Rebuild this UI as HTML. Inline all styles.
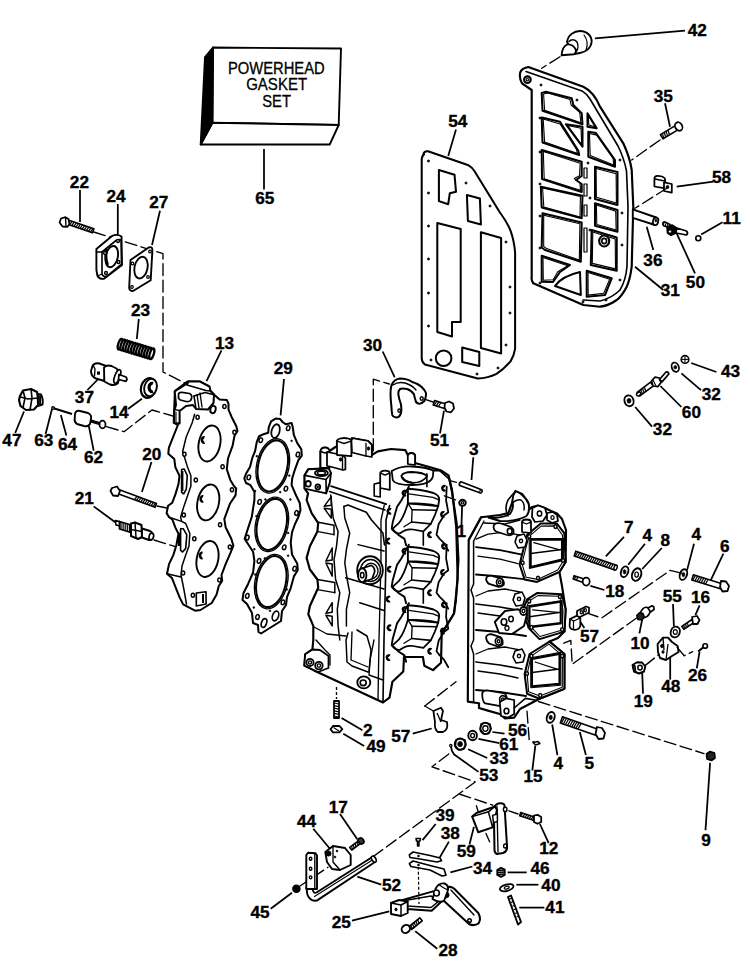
<!DOCTYPE html>
<html><head><meta charset="utf-8"><style>
html,body{margin:0;padding:0;background:#fff;width:750px;height:965px;overflow:hidden}
svg{display:block}
.l{font-family:"Liberation Sans",sans-serif;font-weight:bold;font-size:17.2px;text-anchor:middle;fill:#000;stroke:#000;stroke-width:0.35px}
.t{font-family:"Liberation Sans",sans-serif;font-size:16.3px;text-anchor:middle;fill:#000;stroke:#000;stroke-width:0.3px}
</style></head><body>
<svg width="750" height="965" viewBox="0 0 750 965">
<polygon points="213.0,47.5 341.0,48.5 338.7,125.0 212.4,122.8" fill="#fff" stroke="#000" stroke-width="1.89" stroke-linejoin="round" />
<polygon points="212.4,122.8 338.7,125.0 329.7,144.5 200.7,144.5" fill="#fff" stroke="#000" stroke-width="1.89" stroke-linejoin="round" />
<polygon points="205.0,57.0 213.0,47.5 212.4,122.8 200.7,144.5" fill="#000" stroke="#000" stroke-width="1.89" stroke-linejoin="round" />
<text x="276.3" y="73.6" class="t" textLength="96.8" lengthAdjust="spacingAndGlyphs">POWERHEAD</text>
<text x="276.65" y="90" class="t" textLength="60.9" lengthAdjust="spacingAndGlyphs">GASKET</text>
<text x="276.6" y="106.9" class="t" textLength="28.6" lengthAdjust="spacingAndGlyphs">SET</text>
<line x1="264.0" y1="149.0" x2="264.0" y2="189.5" stroke="#000" stroke-width="1.76" stroke-linecap="butt"/>
<text x="79.40" y="187.60" class="l">22</text>
<text x="116.10" y="202.20" class="l">24</text>
<text x="158.70" y="208.40" class="l">27</text>
<text x="11.90" y="446.00" class="l">47</text>
<text x="43.80" y="446.00" class="l">63</text>
<text x="67.50" y="450.20" class="l">64</text>
<text x="93.50" y="462.60" class="l">62</text>
<text x="84.40" y="402.60" class="l">37</text>
<text x="140.50" y="315.60" class="l">23</text>
<text x="119.00" y="418.40" class="l">14</text>
<text x="151.80" y="460.00" class="l">20</text>
<text x="84.30" y="504.00" class="l">21</text>
<text x="224.60" y="348.60" class="l">13</text>
<text x="283.20" y="374.00" class="l">29</text>
<text x="372.60" y="351.20" class="l">30</text>
<text x="439.50" y="445.60" class="l">51</text>
<text x="473.90" y="454.60" class="l">3</text>
<text x="457.70" y="126.80" class="l">54</text>
<text x="663.20" y="101.80" class="l">35</text>
<text x="721.50" y="183.00" class="l">58</text>
<text x="731.70" y="223.80" class="l">11</text>
<text x="652.90" y="265.60" class="l">36</text>
<text x="695.40" y="287.80" class="l">50</text>
<text x="670.30" y="295.80" class="l">31</text>
<text x="730.60" y="377.00" class="l">43</text>
<text x="711.20" y="400.00" class="l">32</text>
<text x="691.40" y="418.20" class="l">60</text>
<text x="662.40" y="434.80" class="l">32</text>
<text x="628.90" y="533.40" class="l">7</text>
<text x="647.20" y="541.20" class="l">4</text>
<text x="665.20" y="545.60" class="l">8</text>
<text x="696.30" y="539.60" class="l">4</text>
<text x="724.70" y="551.80" class="l">6</text>
<text x="614.80" y="597.20" class="l">18</text>
<text x="672.20" y="601.60" class="l">55</text>
<text x="700.60" y="603.40" class="l">16</text>
<text x="589.50" y="641.60" class="l">57</text>
<text x="640.10" y="648.60" class="l">10</text>
<text x="697.50" y="681.00" class="l">26</text>
<text x="670.80" y="691.60" class="l">48</text>
<text x="643.20" y="707.20" class="l">19</text>
<text x="367.90" y="735.60" class="l">2</text>
<text x="376.10" y="752.20" class="l">49</text>
<text x="400.70" y="741.80" class="l">57</text>
<text x="517.50" y="735.60" class="l">56</text>
<text x="508.80" y="749.60" class="l">61</text>
<text x="499.00" y="763.60" class="l">33</text>
<text x="488.70" y="780.60" class="l">53</text>
<text x="533.00" y="781.60" class="l">15</text>
<text x="558.30" y="769.20" class="l">4</text>
<text x="589.40" y="769.20" class="l">5</text>
<text x="338.20" y="812.60" class="l">17</text>
<text x="306.50" y="827.00" class="l">44</text>
<text x="445.00" y="821.40" class="l">39</text>
<text x="450.20" y="839.00" class="l">38</text>
<text x="466.20" y="856.60" class="l">59</text>
<text x="548.70" y="854.40" class="l">12</text>
<text x="482.50" y="874.00" class="l">34</text>
<text x="540.10" y="874.40" class="l">46</text>
<text x="550.90" y="891.20" class="l">40</text>
<text x="554.90" y="913.20" class="l">41</text>
<text x="391.60" y="891.20" class="l">52</text>
<text x="260.10" y="918.00" class="l">45</text>
<text x="341.30" y="928.20" class="l">25</text>
<text x="706.10" y="846.20" class="l">9</text>
<text x="448.00" y="956.20" class="l">28</text>
<text x="697.30" y="35.60" class="l">42</text>
<text x="264.70" y="204.20" class="l">65</text>
<text x="461.30" y="537.40" class="l">1</text>
<line x1="595.0" y1="38.3" x2="685.0" y2="30.7" stroke="#000" stroke-width="1.76" stroke-linecap="butt"/>
<line x1="665.0" y1="103.3" x2="670.0" y2="126.7" stroke="#000" stroke-width="1.76" stroke-linecap="butt"/>
<line x1="456.0" y1="129.6" x2="448.2" y2="156.0" stroke="#000" stroke-width="1.76" stroke-linecap="butt"/>
<line x1="676.7" y1="186.7" x2="713.3" y2="181.7" stroke="#000" stroke-width="1.76" stroke-linecap="butt"/>
<line x1="80.0" y1="190.0" x2="80.0" y2="222.0" stroke="#000" stroke-width="1.76" stroke-linecap="butt"/>
<line x1="117.8" y1="204.0" x2="117.8" y2="234.7" stroke="#000" stroke-width="1.76" stroke-linecap="butt"/>
<line x1="160.0" y1="210.7" x2="152.0" y2="245.0" stroke="#000" stroke-width="1.76" stroke-linecap="butt"/>
<line x1="701.2" y1="234.6" x2="722.5" y2="222.3" stroke="#000" stroke-width="1.76" stroke-linecap="butt"/>
<line x1="646.7" y1="226.7" x2="653.3" y2="250.0" stroke="#000" stroke-width="1.76" stroke-linecap="butt"/>
<line x1="676.7" y1="233.3" x2="695.0" y2="273.3" stroke="#000" stroke-width="1.76" stroke-linecap="butt"/>
<line x1="635.0" y1="266.7" x2="663.3" y2="290.0" stroke="#000" stroke-width="1.76" stroke-linecap="butt"/>
<line x1="138.8" y1="319.0" x2="136.8" y2="339.0" stroke="#000" stroke-width="1.76" stroke-linecap="butt"/>
<line x1="221.5" y1="350.3" x2="206.5" y2="381.2" stroke="#000" stroke-width="1.76" stroke-linecap="butt"/>
<line x1="382.7" y1="351.5" x2="394.7" y2="377.3" stroke="#000" stroke-width="1.76" stroke-linecap="butt"/>
<line x1="284.0" y1="379.0" x2="280.6" y2="415.3" stroke="#000" stroke-width="1.76" stroke-linecap="butt"/>
<line x1="691.2" y1="363.0" x2="716.4" y2="372.0" stroke="#000" stroke-width="1.76" stroke-linecap="butt"/>
<line x1="681.4" y1="373.4" x2="701.0" y2="390.2" stroke="#000" stroke-width="1.76" stroke-linecap="butt"/>
<line x1="98.8" y1="378.5" x2="87.4" y2="390.0" stroke="#000" stroke-width="1.76" stroke-linecap="butt"/>
<line x1="660.4" y1="386.0" x2="681.4" y2="407.0" stroke="#000" stroke-width="1.76" stroke-linecap="butt"/>
<line x1="141.9" y1="398.8" x2="128.0" y2="409.0" stroke="#000" stroke-width="1.76" stroke-linecap="butt"/>
<line x1="635.2" y1="407.0" x2="652.0" y2="426.6" stroke="#000" stroke-width="1.76" stroke-linecap="butt"/>
<line x1="444.0" y1="410.7" x2="440.0" y2="433.3" stroke="#000" stroke-width="1.76" stroke-linecap="butt"/>
<line x1="24.0" y1="411.5" x2="15.2" y2="433.0" stroke="#000" stroke-width="1.76" stroke-linecap="butt"/>
<line x1="45.6" y1="434.0" x2="52.0" y2="409.0" stroke="#000" stroke-width="1.76" stroke-linecap="butt"/>
<line x1="66.4" y1="435.5" x2="60.8" y2="415.0" stroke="#000" stroke-width="1.76" stroke-linecap="butt"/>
<line x1="473.3" y1="457.3" x2="471.5" y2="480.0" stroke="#000" stroke-width="1.76" stroke-linecap="butt"/>
<line x1="88.7" y1="425.4" x2="93.7" y2="450.7" stroke="#000" stroke-width="1.76" stroke-linecap="butt"/>
<line x1="151.5" y1="462.0" x2="141.9" y2="492.0" stroke="#000" stroke-width="1.76" stroke-linecap="butt"/>
<line x1="93.7" y1="506.4" x2="115.3" y2="522.3" stroke="#000" stroke-width="1.76" stroke-linecap="butt"/>
<line x1="624.0" y1="536.8" x2="605.8" y2="556.4" stroke="#000" stroke-width="1.76" stroke-linecap="butt"/>
<line x1="462.1" y1="506.0" x2="461.5" y2="525.0" stroke="#000" stroke-width="1.76" stroke-linecap="butt"/>
<line x1="645.0" y1="543.8" x2="628.2" y2="564.8" stroke="#000" stroke-width="1.76" stroke-linecap="butt"/>
<line x1="661.8" y1="548.0" x2="642.2" y2="569.0" stroke="#000" stroke-width="1.76" stroke-linecap="butt"/>
<line x1="694.0" y1="543.8" x2="687.0" y2="570.4" stroke="#000" stroke-width="1.76" stroke-linecap="butt"/>
<line x1="723.4" y1="553.6" x2="710.8" y2="580.2" stroke="#000" stroke-width="1.76" stroke-linecap="butt"/>
<line x1="590.4" y1="585.8" x2="604.4" y2="590.0" stroke="#000" stroke-width="1.76" stroke-linecap="butt"/>
<line x1="673.0" y1="604.0" x2="673.9" y2="626.4" stroke="#000" stroke-width="1.76" stroke-linecap="butt"/>
<line x1="699.6" y1="605.4" x2="695.4" y2="615.2" stroke="#000" stroke-width="1.76" stroke-linecap="butt"/>
<line x1="579.4" y1="620.6" x2="584.4" y2="628.0" stroke="#000" stroke-width="1.76" stroke-linecap="butt"/>
<line x1="642.2" y1="619.4" x2="639.4" y2="633.4" stroke="#000" stroke-width="1.76" stroke-linecap="butt"/>
<line x1="699.6" y1="651.6" x2="696.8" y2="668.4" stroke="#000" stroke-width="1.76" stroke-linecap="butt"/>
<line x1="670.2" y1="657.2" x2="670.2" y2="679.6" stroke="#000" stroke-width="1.76" stroke-linecap="butt"/>
<line x1="642.2" y1="672.6" x2="643.0" y2="693.6" stroke="#000" stroke-width="1.76" stroke-linecap="butt"/>
<line x1="341.6" y1="718.1" x2="362.4" y2="730.3" stroke="#000" stroke-width="1.76" stroke-linecap="butt"/>
<line x1="492.4" y1="732.0" x2="504.5" y2="733.7" stroke="#000" stroke-width="1.76" stroke-linecap="butt"/>
<line x1="431.7" y1="728.5" x2="412.7" y2="733.7" stroke="#000" stroke-width="1.76" stroke-linecap="butt"/>
<line x1="478.5" y1="738.9" x2="499.3" y2="743.1" stroke="#000" stroke-width="1.76" stroke-linecap="butt"/>
<line x1="343.3" y1="733.7" x2="364.1" y2="745.9" stroke="#000" stroke-width="1.76" stroke-linecap="butt"/>
<line x1="468.1" y1="749.3" x2="487.2" y2="758.0" stroke="#000" stroke-width="1.76" stroke-linecap="butt"/>
<line x1="552.2" y1="724.5" x2="557.4" y2="755.1" stroke="#000" stroke-width="1.76" stroke-linecap="butt"/>
<line x1="579.8" y1="732.1" x2="585.9" y2="755.1" stroke="#000" stroke-width="1.76" stroke-linecap="butt"/>
<line x1="454.2" y1="754.5" x2="478.5" y2="771.9" stroke="#000" stroke-width="1.76" stroke-linecap="butt"/>
<line x1="535.3" y1="745.9" x2="532.3" y2="770.5" stroke="#000" stroke-width="1.76" stroke-linecap="butt"/>
<line x1="340.0" y1="814.0" x2="357.3" y2="839.3" stroke="#000" stroke-width="1.76" stroke-linecap="butt"/>
<line x1="435.7" y1="824.0" x2="422.5" y2="840.1" stroke="#000" stroke-width="1.76" stroke-linecap="butt"/>
<line x1="313.3" y1="828.7" x2="332.0" y2="851.3" stroke="#000" stroke-width="1.76" stroke-linecap="butt"/>
<line x1="448.9" y1="841.6" x2="438.7" y2="859.2" stroke="#000" stroke-width="1.76" stroke-linecap="butt"/>
<line x1="710.1" y1="762.8" x2="705.5" y2="830.3" stroke="#000" stroke-width="1.76" stroke-linecap="butt"/>
<line x1="539.9" y1="824.0" x2="548.7" y2="843.1" stroke="#000" stroke-width="1.76" stroke-linecap="butt"/>
<line x1="469.5" y1="844.5" x2="473.9" y2="826.9" stroke="#000" stroke-width="1.76" stroke-linecap="butt"/>
<line x1="450.4" y1="872.4" x2="472.4" y2="866.5" stroke="#000" stroke-width="1.76" stroke-linecap="butt"/>
<line x1="507.6" y1="872.4" x2="526.7" y2="872.4" stroke="#000" stroke-width="1.76" stroke-linecap="butt"/>
<line x1="357.3" y1="876.7" x2="381.3" y2="884.7" stroke="#000" stroke-width="1.76" stroke-linecap="butt"/>
<line x1="516.4" y1="884.7" x2="538.4" y2="884.7" stroke="#000" stroke-width="1.76" stroke-linecap="butt"/>
<line x1="519.3" y1="907.6" x2="544.3" y2="907.6" stroke="#000" stroke-width="1.76" stroke-linecap="butt"/>
<line x1="292.0" y1="892.7" x2="270.7" y2="908.7" stroke="#000" stroke-width="1.76" stroke-linecap="butt"/>
<line x1="352.0" y1="920.7" x2="389.3" y2="911.3" stroke="#000" stroke-width="1.76" stroke-linecap="butt"/>
<line x1="415.2" y1="931.1" x2="437.2" y2="948.7" stroke="#000" stroke-width="1.76" stroke-linecap="butt"/>
<path d="M423.3,154.4 Q424,151 428,151.3 L468.5,165.3 Q472,167 474.7,171.6 L499.6,212 Q507,222 510.5,230.7 Q514,240 515.1,252.5 L515.1,348.9 Q514,356 510.5,361.4 Q504,369 496.5,373.8 Q488,378 477.8,378.5 L424.9,364.5 Q421.7,362 421.7,358.2 L421.7,159.1 Q422,156 424,154.4 Z" fill="#fff" stroke="#000" stroke-width="2.03" stroke-linejoin="round" stroke-linecap="round"/>
<path d="M438.9,170 L454.5,174.7 L456,191.8 L449.8,193.3 L448.2,204.2 L438.9,201.1 Z" fill="#fff" stroke="#000" stroke-width="2.03" stroke-linejoin="round" stroke-linecap="round"/>
<path d="M466.9,194.9 L479.9,198.5 L480.9,224.5 L467.9,220.9 Z" fill="#fff" stroke="#000" stroke-width="2.03" stroke-linejoin="round" stroke-linecap="round"/>
<path d="M437.3,222.9 L460.7,229 L460.7,322 L452,322 L452,336.5 L437.3,332 Z" fill="#fff" stroke="#000" stroke-width="2.03" stroke-linejoin="round" stroke-linecap="round"/>
<path d="M480.9,232.2 L501.1,238 L501.1,353.6 L480.9,348 Z" fill="#fff" stroke="#000" stroke-width="2.03" stroke-linejoin="round" stroke-linecap="round"/>
<ellipse cx="443.6" cy="358.2" rx="7.8" ry="7.8" fill="#fff" stroke="#000" stroke-width="2.03" transform="rotate(0 443.6 358.2)"/>
<path d="M462.2,347.4 L479.3,352 L479.3,366 L462.2,362 Z" fill="#fff" stroke="#000" stroke-width="2.03" stroke-linejoin="round" stroke-linecap="round"/>
<ellipse cx="428.5" cy="161.0" rx="1.1" ry="1.1" fill="#000" stroke="#000" stroke-width="0.68" transform="rotate(0 428.5 161.0)"/>
<ellipse cx="466.0" cy="183.0" rx="1.1" ry="1.1" fill="#000" stroke="#000" stroke-width="0.68" transform="rotate(0 466.0 183.0)"/>
<ellipse cx="428.5" cy="193.0" rx="1.1" ry="1.1" fill="#000" stroke="#000" stroke-width="0.68" transform="rotate(0 428.5 193.0)"/>
<ellipse cx="428.5" cy="226.0" rx="1.1" ry="1.1" fill="#000" stroke="#000" stroke-width="0.68" transform="rotate(0 428.5 226.0)"/>
<ellipse cx="428.5" cy="259.0" rx="1.1" ry="1.1" fill="#000" stroke="#000" stroke-width="0.68" transform="rotate(0 428.5 259.0)"/>
<ellipse cx="428.5" cy="293.0" rx="1.1" ry="1.1" fill="#000" stroke="#000" stroke-width="0.68" transform="rotate(0 428.5 293.0)"/>
<ellipse cx="428.5" cy="326.0" rx="1.1" ry="1.1" fill="#000" stroke="#000" stroke-width="0.68" transform="rotate(0 428.5 326.0)"/>
<ellipse cx="431.0" cy="360.0" rx="1.1" ry="1.1" fill="#000" stroke="#000" stroke-width="0.68" transform="rotate(0 431.0 360.0)"/>
<ellipse cx="490.0" cy="206.0" rx="1.1" ry="1.1" fill="#000" stroke="#000" stroke-width="0.68" transform="rotate(0 490.0 206.0)"/>
<ellipse cx="506.0" cy="242.0" rx="1.1" ry="1.1" fill="#000" stroke="#000" stroke-width="0.68" transform="rotate(0 506.0 242.0)"/>
<ellipse cx="510.0" cy="287.0" rx="1.1" ry="1.1" fill="#000" stroke="#000" stroke-width="0.68" transform="rotate(0 510.0 287.0)"/>
<ellipse cx="510.0" cy="313.0" rx="1.1" ry="1.1" fill="#000" stroke="#000" stroke-width="0.68" transform="rotate(0 510.0 313.0)"/>
<ellipse cx="506.0" cy="345.0" rx="1.1" ry="1.1" fill="#000" stroke="#000" stroke-width="0.68" transform="rotate(0 506.0 345.0)"/>
<ellipse cx="498.0" cy="368.0" rx="1.1" ry="1.1" fill="#000" stroke="#000" stroke-width="0.68" transform="rotate(0 498.0 368.0)"/>
<ellipse cx="477.0" cy="374.0" rx="1.1" ry="1.1" fill="#000" stroke="#000" stroke-width="0.68" transform="rotate(0 477.0 374.0)"/>
<path d="M520,76.7 Q519,70 525,68 L528.3,67 L583.3,86.7 Q594,92 600,106.7 L623.3,143.3 Q630,158 631.7,170 L633.3,206.7 L631.7,266.7 Q630,280 626.7,286.7 Q622,296 616.7,300 Q608,306 600,306.7 L583.3,305 L533.3,283.3 Q531,280 531.7,276.7 L531.7,90 L522,83.3 Q520,80 520,76.7 Z" fill="#fff" stroke="#000" stroke-width="2.16" stroke-linejoin="round" stroke-linecap="round"/>
<path d="M526,71.5 L582,90.9 Q587,94 590,99 L618,146 Q624,158 626.5,171 L628,207 L627,266 Q626,280 620,290 Q612,298 600,301 L583,300" fill="none" stroke="#000" stroke-width="1.62" stroke-linejoin="round" stroke-linecap="round"/>
<ellipse cx="527.4" cy="79.7" rx="3.3" ry="3.3" fill="#fff" stroke="#000" stroke-width="2.16" transform="rotate(0 527.4 79.7)"/>
<ellipse cx="527.4" cy="79.7" rx="1.2" ry="1.2" fill="#fff" stroke="#000" stroke-width="1.08" transform="rotate(0 527.4 79.7)"/>
<polygon points="541.7,93.0 546.0,91.7 571.7,98.3 573.3,105.0 581.7,113.3 582.5,124.2 542.5,110.8" fill="#fff" stroke="#000" stroke-width="2.03" stroke-linejoin="round" />
<polygon points="543.6,94.1 547.7,93.1 570.0,99.6 571.1,105.0 579.7,112.4 580.9,122.7 544.6,110.2" fill="none" stroke="#000" stroke-width="1.08" stroke-linejoin="round" />
<polygon points="541.7,117.5 560.0,121.7 578.3,150.8 579.2,155.0 542.5,142.5" fill="#fff" stroke="#000" stroke-width="2.03" stroke-linejoin="round" />
<polygon points="543.2,119.1 560.0,123.9 576.5,149.5 577.6,153.5 544.6,141.9" fill="none" stroke="#000" stroke-width="1.08" stroke-linejoin="round" />
<polygon points="565.8,124.2 582.5,126.7 582.5,146.7" fill="#fff" stroke="#000" stroke-width="2.03" stroke-linejoin="round" />
<polygon points="567.6,125.5 581.0,128.3 581.7,144.7" fill="none" stroke="#000" stroke-width="1.08" stroke-linejoin="round" />
<polygon points="541.7,150.0 581.7,161.7 581.7,176.0 576.0,180.0 581.7,184.0 581.7,192.0 542.0,179.0" fill="#fff" stroke="#000" stroke-width="2.03" stroke-linejoin="round" />
<polygon points="543.3,151.5 580.2,163.3 579.5,175.8 574.3,178.6 580.0,182.7 580.4,190.2 544.2,178.7" fill="none" stroke="#000" stroke-width="1.08" stroke-linejoin="round" />
<polygon points="540.8,186.7 582.5,195.8 581.7,218.3 541.7,207.5" fill="#fff" stroke="#000" stroke-width="2.03" stroke-linejoin="round" />
<polygon points="542.6,188.0 580.4,196.4 580.0,216.9 543.8,206.9" fill="none" stroke="#000" stroke-width="1.08" stroke-linejoin="round" />
<polygon points="542.5,213.3 581.7,222.5 580.8,261.7 545.0,250.0 541.7,247.5" fill="#fff" stroke="#000" stroke-width="2.03" stroke-linejoin="round" />
<polygon points="543.7,215.2 579.9,223.8 579.3,260.1 546.7,248.6 543.7,246.5" fill="none" stroke="#000" stroke-width="1.08" stroke-linejoin="round" />
<polygon points="541.7,255.8 570.0,265.0 560.0,272.0 553.0,282.0 541.7,281.7" fill="#fff" stroke="#000" stroke-width="2.03" stroke-linejoin="round" />
<polygon points="543.0,257.6 567.9,265.8 557.8,271.8 553.1,279.8 543.3,280.2" fill="none" stroke="#000" stroke-width="1.08" stroke-linejoin="round" />
<path d="M555,286 Q562,276 580,272 L580.8,295 Z" fill="#fff" stroke="#000" stroke-width="2.03" stroke-linejoin="round" stroke-linecap="round"/>
<polygon points="587.5,113.3 596.7,128.3 587.5,126.7" fill="#fff" stroke="#000" stroke-width="2.03" stroke-linejoin="round" />
<polygon points="588.2,115.4 595.1,126.8 588.9,125.0" fill="none" stroke="#000" stroke-width="1.08" stroke-linejoin="round" />
<polygon points="588.3,131.7 596.0,133.0 615.0,160.0 615.0,166.7 588.3,156.7" fill="#fff" stroke="#000" stroke-width="2.03" stroke-linejoin="round" />
<polygon points="589.5,133.5 596.6,135.1 613.2,158.7 613.6,165.0 590.2,155.6" fill="none" stroke="#000" stroke-width="1.08" stroke-linejoin="round" />
<polygon points="595.0,166.7 617.5,172.0 617.5,205.0 595.0,199.0" fill="#fff" stroke="#000" stroke-width="2.03" stroke-linejoin="round" />
<polygon points="596.1,168.6 616.1,173.7 616.4,203.1 596.4,197.3" fill="none" stroke="#000" stroke-width="1.08" stroke-linejoin="round" />
<polygon points="595.0,203.3 617.5,210.0 617.5,231.7 595.0,225.8" fill="#fff" stroke="#000" stroke-width="2.03" stroke-linejoin="round" />
<polygon points="596.4,205.0 615.7,211.2 616.1,230.0 596.8,224.5" fill="none" stroke="#000" stroke-width="1.08" stroke-linejoin="round" />
<polygon points="591.7,230.0 616.7,237.5 616.7,270.8 590.8,265.0" fill="#fff" stroke="#000" stroke-width="2.03" stroke-linejoin="round" />
<polygon points="592.8,231.9 615.2,239.1 615.5,268.9 592.3,263.4" fill="none" stroke="#000" stroke-width="1.08" stroke-linejoin="round" />
<polygon points="586.7,270.8 611.7,278.3 605.0,295.0 586.7,296.7" fill="#fff" stroke="#000" stroke-width="2.03" stroke-linejoin="round" />
<polygon points="588.0,272.6 609.7,279.3 603.7,293.3 588.2,295.1" fill="none" stroke="#000" stroke-width="1.08" stroke-linejoin="round" />
<polygon points="584.0,168.0 587.0,168.0 587.0,178.0 584.0,178.0" fill="#fff" stroke="#000" stroke-width="1.22" stroke-linejoin="round" />
<polygon points="584.0,184.0 587.0,184.0 587.0,196.0 584.0,196.0" fill="#fff" stroke="#000" stroke-width="1.22" stroke-linejoin="round" />
<polygon points="584.0,205.0 587.0,205.0 587.0,216.0 584.0,216.0" fill="#fff" stroke="#000" stroke-width="1.22" stroke-linejoin="round" />
<polygon points="584.0,228.0 587.0,228.0 587.0,252.0 584.0,252.0" fill="#fff" stroke="#000" stroke-width="1.22" stroke-linejoin="round" />
<ellipse cx="604.2" cy="241.0" rx="5.0" ry="5.5" fill="#fff" stroke="#000" stroke-width="2.16" transform="rotate(0 604.2 241.0)"/>
<ellipse cx="604.2" cy="241.0" rx="2.4" ry="2.6" fill="#fff" stroke="#000" stroke-width="1.62" transform="rotate(0 604.2 241.0)"/>
<ellipse cx="541.0" cy="85.0" rx="1.1" ry="1.1" fill="#000" stroke="#000" stroke-width="0.68" transform="rotate(0 541.0 85.0)"/>
<ellipse cx="577.0" cy="100.0" rx="1.1" ry="1.1" fill="#000" stroke="#000" stroke-width="0.68" transform="rotate(0 577.0 100.0)"/>
<ellipse cx="540.0" cy="118.0" rx="1.1" ry="1.1" fill="#000" stroke="#000" stroke-width="0.68" transform="rotate(0 540.0 118.0)"/>
<ellipse cx="540.0" cy="152.0" rx="1.1" ry="1.1" fill="#000" stroke="#000" stroke-width="0.68" transform="rotate(0 540.0 152.0)"/>
<ellipse cx="540.0" cy="184.0" rx="1.1" ry="1.1" fill="#000" stroke="#000" stroke-width="0.68" transform="rotate(0 540.0 184.0)"/>
<ellipse cx="540.0" cy="216.0" rx="1.1" ry="1.1" fill="#000" stroke="#000" stroke-width="0.68" transform="rotate(0 540.0 216.0)"/>
<ellipse cx="540.0" cy="248.0" rx="1.1" ry="1.1" fill="#000" stroke="#000" stroke-width="0.68" transform="rotate(0 540.0 248.0)"/>
<ellipse cx="540.0" cy="283.0" rx="1.1" ry="1.1" fill="#000" stroke="#000" stroke-width="0.68" transform="rotate(0 540.0 283.0)"/>
<ellipse cx="620.0" cy="160.0" rx="1.1" ry="1.1" fill="#000" stroke="#000" stroke-width="0.68" transform="rotate(0 620.0 160.0)"/>
<ellipse cx="622.0" cy="213.0" rx="1.1" ry="1.1" fill="#000" stroke="#000" stroke-width="0.68" transform="rotate(0 622.0 213.0)"/>
<ellipse cx="622.0" cy="245.0" rx="1.1" ry="1.1" fill="#000" stroke="#000" stroke-width="0.68" transform="rotate(0 622.0 245.0)"/>
<ellipse cx="620.0" cy="280.0" rx="1.1" ry="1.1" fill="#000" stroke="#000" stroke-width="0.68" transform="rotate(0 620.0 280.0)"/>
<ellipse cx="606.0" cy="300.0" rx="1.1" ry="1.1" fill="#000" stroke="#000" stroke-width="0.68" transform="rotate(0 606.0 300.0)"/>
<ellipse cx="583.0" cy="302.0" rx="1.1" ry="1.1" fill="#000" stroke="#000" stroke-width="0.68" transform="rotate(0 583.0 302.0)"/>
<ellipse cx="588.0" cy="163.0" rx="1.1" ry="1.1" fill="#000" stroke="#000" stroke-width="0.68" transform="rotate(0 588.0 163.0)"/>
<ellipse cx="590.0" cy="198.0" rx="1.1" ry="1.1" fill="#000" stroke="#000" stroke-width="0.68" transform="rotate(0 590.0 198.0)"/>
<ellipse cx="590.0" cy="230.0" rx="1.1" ry="1.1" fill="#000" stroke="#000" stroke-width="0.68" transform="rotate(0 590.0 230.0)"/>
<path d="M567,42 C568,35 574,31 580,31 C587,31 592,36 591.6,42 C591,48 586,52 580,53 L574,54 Z" fill="#fff" stroke="#000" stroke-width="1.89" stroke-linejoin="round" stroke-linecap="round"/>
<path d="M561.6,55.2 C562,50 564,46 567,44.5 C571,44 574,46 576,50 C576,52 575,54 574,54.3 Z" fill="#fff" stroke="#000" stroke-width="1.89" stroke-linejoin="round" stroke-linecap="round"/>
<path d="M569,41.5 C571,39 575,39 577,42 C578.5,45 578,49 576.5,51" fill="none" stroke="#000" stroke-width="1.49" stroke-linejoin="round" stroke-linecap="round"/>
<path d="M584,35 C587,39 588,45 586,50" fill="none" stroke="#000" stroke-width="1.22" stroke-linejoin="round" stroke-linecap="round"/>
<polyline points="560.0,56.7 541.7,68.3" fill="none" stroke="#000" stroke-width="1.35" stroke-linejoin="round" stroke-linecap="round" stroke-dasharray="12 4.5" />
<polygon points="663.0,138.8 678.3,129.6 675.7,125.4 660.4,134.6" fill="#fff" stroke="#000" stroke-width="1.62" stroke-linejoin="round" />
<line x1="663.8" y1="138.3" x2="662.3" y2="133.4" stroke="#000" stroke-width="1.22" stroke-linecap="butt"/>
<line x1="665.7" y1="137.2" x2="664.2" y2="132.3" stroke="#000" stroke-width="1.22" stroke-linecap="butt"/>
<line x1="667.6" y1="136.1" x2="666.1" y2="131.2" stroke="#000" stroke-width="1.22" stroke-linecap="butt"/>
<line x1="669.5" y1="134.9" x2="668.0" y2="130.0" stroke="#000" stroke-width="1.22" stroke-linecap="butt"/>
<ellipse cx="678.7" cy="126.5" rx="3.5" ry="4.5" fill="#fff" stroke="#000" stroke-width="1.76" transform="rotate(-31.018795688547417 678.7 126.5)"/>
<polyline points="660.0,140.0 631.7,160.0" fill="none" stroke="#000" stroke-width="1.35" stroke-linejoin="round" stroke-linecap="round" stroke-dasharray="12 4.5" />
<path d="M654.4,178 Q655,175.5 658,175.8 L662,176.5 Q665,177.5 665.2,180 L665.2,188.4 L654.4,186.5 Z" fill="#fff" stroke="#000" stroke-width="1.76" stroke-linejoin="round" stroke-linecap="round"/>
<polyline points="655.0,179.0 664.5,181.0" fill="none" stroke="#000" stroke-width="1.35" stroke-linejoin="round" stroke-linecap="round" />
<path d="M664,182.4 L671.8,184 L671.8,192.6 L664,191 Z" fill="#fff" stroke="#000" stroke-width="1.76" stroke-linejoin="round" stroke-linecap="round"/>
<ellipse cx="667.5" cy="187.0" rx="1.4" ry="1.6" fill="#000" stroke="#000" stroke-width="0.81" transform="rotate(0 667.5 187.0)"/>
<polyline points="666.7,188.3 635.0,208.3" fill="none" stroke="#000" stroke-width="1.35" stroke-linejoin="round" stroke-linecap="round" stroke-dasharray="12 4.5" />
<path d="M632.8,209.4 L656.2,217.5 L655,225 L632.8,217.8 Z" fill="#fff" stroke="#000" stroke-width="1.89" stroke-linejoin="round" stroke-linecap="round"/>
<ellipse cx="655.6" cy="221.3" rx="2.6" ry="3.9" fill="#fff" stroke="#000" stroke-width="1.76" transform="rotate(15 655.6 221.3)"/>
<ellipse cx="655.9" cy="220.5" rx="0.9" ry="1.5" fill="#000" stroke="#000" stroke-width="0.68" transform="rotate(0 655.9 220.5)"/>
<path d="M662.8,223.5 Q663,221.5 665,222 L670,224.5 L669,227.5 L664,226 Q662.5,225 662.8,223.5 Z" fill="#fff" stroke="#000" stroke-width="1.62" stroke-linejoin="round" stroke-linecap="round"/>
<line x1="664.0" y1="222.5" x2="663.5" y2="225.5" stroke="#000" stroke-width="1.08" stroke-linecap="butt"/>
<line x1="665.8" y1="223.3" x2="665.3" y2="226.3" stroke="#000" stroke-width="1.08" stroke-linecap="butt"/>
<line x1="667.6" y1="224.1" x2="667.1" y2="227.1" stroke="#000" stroke-width="1.08" stroke-linecap="butt"/>
<path d="M667,227 L672,225 L676.6,228 L676,233 L671,235.2 L667.5,233 Z" fill="#000" stroke="#000" stroke-width="1.62" stroke-linejoin="round" stroke-linecap="round"/>
<ellipse cx="670.0" cy="231.5" rx="1.4" ry="1.6" fill="#fff" stroke="#000" stroke-width="0.68" transform="rotate(0 670.0 231.5)"/>
<path d="M676.6,228 L686.5,231 Q688.5,233 686.5,235 L676,233 Z" fill="#fff" stroke="#000" stroke-width="1.76" stroke-linejoin="round" stroke-linecap="round"/>
<ellipse cx="698.3" cy="238.3" rx="2.5" ry="2.5" fill="#fff" stroke="#000" stroke-width="1.62" transform="rotate(0 698.3 238.3)"/>
<polygon points="93.9,228.8 68.2,220.0 66.8,224.0 92.5,232.8" fill="#fff" stroke="#000" stroke-width="1.62" stroke-linejoin="round" />
<line x1="92.9" y1="228.5" x2="90.4" y2="232.1" stroke="#000" stroke-width="1.22" stroke-linecap="butt"/>
<line x1="90.9" y1="227.8" x2="88.4" y2="231.4" stroke="#000" stroke-width="1.22" stroke-linecap="butt"/>
<line x1="88.8" y1="227.1" x2="86.3" y2="230.6" stroke="#000" stroke-width="1.22" stroke-linecap="butt"/>
<line x1="86.7" y1="226.4" x2="84.2" y2="229.9" stroke="#000" stroke-width="1.22" stroke-linecap="butt"/>
<line x1="84.6" y1="225.6" x2="82.1" y2="229.2" stroke="#000" stroke-width="1.22" stroke-linecap="butt"/>
<line x1="82.5" y1="224.9" x2="80.0" y2="228.5" stroke="#000" stroke-width="1.22" stroke-linecap="butt"/>
<line x1="80.4" y1="224.2" x2="78.0" y2="227.8" stroke="#000" stroke-width="1.22" stroke-linecap="butt"/>
<line x1="78.4" y1="223.5" x2="75.9" y2="227.1" stroke="#000" stroke-width="1.22" stroke-linecap="butt"/>
<line x1="76.3" y1="222.8" x2="73.8" y2="226.4" stroke="#000" stroke-width="1.22" stroke-linecap="butt"/>
<line x1="74.2" y1="222.1" x2="71.7" y2="225.7" stroke="#000" stroke-width="1.22" stroke-linecap="butt"/>
<line x1="72.1" y1="221.4" x2="69.6" y2="224.9" stroke="#000" stroke-width="1.22" stroke-linecap="butt"/>
<path d="M61,218.5 L65.5,217.2 L68.4,219 L69.5,224 L67.5,226.8 L62.5,226.5 L59.6,222.5 Z" fill="#fff" stroke="#000" stroke-width="1.76" stroke-linejoin="round" stroke-linecap="round"/>
<line x1="65.5" y1="217.6" x2="66.0" y2="226.5" stroke="#000" stroke-width="1.35" stroke-linecap="butt"/>
<polyline points="93.7,232.0 163.0,253.7 163.0,372.0 186.0,383.6" fill="none" stroke="#000" stroke-width="1.35" stroke-linejoin="round" stroke-linecap="round" stroke-dasharray="12 4.5" />
<path d="M96.4,249 L112,236 Q117,233.5 121.5,236.5 L122,265 L104,278.8 Q99.5,279.5 97.5,276 L96.4,270 Z" fill="#fff" stroke="#000" stroke-width="1.89" stroke-linejoin="round" stroke-linecap="round"/>
<path d="M102,252 L116,240.5 Q119,239 121,240 L121.5,264 L107,276 Q103,277.5 102,274 Z" fill="#fff" stroke="#000" stroke-width="1.62" stroke-linejoin="round" stroke-linecap="round"/>
<polyline points="96.4,252.0 102.0,252.0" fill="none" stroke="#000" stroke-width="1.35" stroke-linejoin="round" stroke-linecap="round" />
<polyline points="97.5,276.0 102.0,274.0" fill="none" stroke="#000" stroke-width="1.35" stroke-linejoin="round" stroke-linecap="round" />
<ellipse cx="111.8" cy="256.6" rx="6.0" ry="10.8" fill="#fff" stroke="#000" stroke-width="1.89" transform="rotate(12 111.8 256.6)"/>
<path d="M107,249 Q104.5,257 107.5,265" fill="none" stroke="#000" stroke-width="2.97"/>
<ellipse cx="118.0" cy="241.0" rx="1.4" ry="1.5" fill="#fff" stroke="#000" stroke-width="1.35" transform="rotate(0 118.0 241.0)"/>
<ellipse cx="118.5" cy="262.0" rx="1.4" ry="1.5" fill="#fff" stroke="#000" stroke-width="1.35" transform="rotate(0 118.5 262.0)"/>
<ellipse cx="105.0" cy="253.0" rx="1.4" ry="1.5" fill="#fff" stroke="#000" stroke-width="1.35" transform="rotate(0 105.0 253.0)"/>
<ellipse cx="106.0" cy="273.0" rx="1.4" ry="1.5" fill="#fff" stroke="#000" stroke-width="1.35" transform="rotate(0 106.0 273.0)"/>
<path d="M130.5,260 L148.7,247.5 Q152.5,246 152.4,250.5 L150.7,280.3 L133,291 Q129.2,291 129.2,287.5 Z" fill="#fff" stroke="#000" stroke-width="1.89" stroke-linejoin="round" stroke-linecap="round"/>
<ellipse cx="141.0" cy="267.6" rx="6.5" ry="11.0" fill="#fff" stroke="#000" stroke-width="1.89" transform="rotate(12 141.0 267.6)"/>
<ellipse cx="150.0" cy="251.5" rx="1.3" ry="1.3" fill="#fff" stroke="#000" stroke-width="1.22" transform="rotate(0 150.0 251.5)"/>
<ellipse cx="148.0" cy="277.0" rx="1.3" ry="1.3" fill="#fff" stroke="#000" stroke-width="1.22" transform="rotate(0 148.0 277.0)"/>
<ellipse cx="132.5" cy="263.5" rx="1.3" ry="1.3" fill="#fff" stroke="#000" stroke-width="1.22" transform="rotate(0 132.5 263.5)"/>
<ellipse cx="132.0" cy="287.0" rx="1.3" ry="1.3" fill="#fff" stroke="#000" stroke-width="1.22" transform="rotate(0 132.0 287.0)"/>
<ellipse cx="120.2" cy="344.2" rx="2.0" ry="5.6" fill="#fff" stroke="#000" stroke-width="2.29" transform="rotate(17 120.2 344.2)"/>
<ellipse cx="122.9" cy="345.0" rx="2.0" ry="5.6" fill="#fff" stroke="#000" stroke-width="2.29" transform="rotate(17 122.9 345.0)"/>
<ellipse cx="125.5" cy="345.8" rx="2.0" ry="5.6" fill="#fff" stroke="#000" stroke-width="2.29" transform="rotate(17 125.5 345.8)"/>
<ellipse cx="128.1" cy="346.6" rx="2.0" ry="5.6" fill="#fff" stroke="#000" stroke-width="2.29" transform="rotate(17 128.1 346.6)"/>
<ellipse cx="130.7" cy="347.4" rx="2.0" ry="5.6" fill="#fff" stroke="#000" stroke-width="2.29" transform="rotate(17 130.7 347.4)"/>
<ellipse cx="133.4" cy="348.2" rx="2.0" ry="5.6" fill="#fff" stroke="#000" stroke-width="2.29" transform="rotate(17 133.4 348.2)"/>
<ellipse cx="136.0" cy="349.0" rx="2.0" ry="5.6" fill="#fff" stroke="#000" stroke-width="2.29" transform="rotate(17 136.0 349.0)"/>
<ellipse cx="138.6" cy="349.8" rx="2.0" ry="5.6" fill="#fff" stroke="#000" stroke-width="2.29" transform="rotate(17 138.6 349.8)"/>
<ellipse cx="141.3" cy="350.6" rx="2.0" ry="5.6" fill="#fff" stroke="#000" stroke-width="2.29" transform="rotate(17 141.3 350.6)"/>
<ellipse cx="143.9" cy="351.4" rx="2.0" ry="5.6" fill="#fff" stroke="#000" stroke-width="2.29" transform="rotate(17 143.9 351.4)"/>
<ellipse cx="146.5" cy="352.2" rx="2.0" ry="5.6" fill="#fff" stroke="#000" stroke-width="2.29" transform="rotate(17 146.5 352.2)"/>
<ellipse cx="149.1" cy="353.0" rx="2.0" ry="5.6" fill="#fff" stroke="#000" stroke-width="2.29" transform="rotate(17 149.1 353.0)"/>
<ellipse cx="151.8" cy="353.8" rx="2.0" ry="5.6" fill="#fff" stroke="#000" stroke-width="2.29" transform="rotate(17 151.8 353.8)"/>
<path d="M92.5,366 Q94.5,362.5 99.5,363.5 L106,366 L104.5,381 L96,378.5 Q91,376.5 91,371 Z" fill="#fff" stroke="#000" stroke-width="1.89" stroke-linejoin="round" stroke-linecap="round"/>
<polyline points="93.0,365.0 95.0,369.0 94.5,376.0" fill="none" stroke="#000" stroke-width="1.35" stroke-linejoin="round" stroke-linecap="round" />
<path d="M104,367.5 Q106.5,364.5 111.5,366 L116.5,368.5 Q120,372 119,378.5 L118,383 Q115,386 110,384.5 L104.3,381.5 Z" fill="#fff" stroke="#000" stroke-width="1.89" stroke-linejoin="round" stroke-linecap="round"/>
<ellipse cx="117.3" cy="376.5" rx="2.6" ry="7.3" fill="#fff" stroke="#000" stroke-width="1.62" transform="rotate(20 117.3 376.5)"/>
<path d="M119,374.5 L126,377 Q127.8,379 126,381.3 L118.5,379.5 Z" fill="#fff" stroke="#000" stroke-width="1.76" stroke-linejoin="round" stroke-linecap="round"/>
<rect x="97" y="371.5" width="3" height="3.2" fill="#000"/>
<ellipse cx="148.5" cy="388.0" rx="7.5" ry="10.0" fill="#fff" stroke="#000" stroke-width="2.16" transform="rotate(15 148.5 388.0)"/>
<ellipse cx="150.5" cy="387.5" rx="6.2" ry="8.8" fill="#fff" stroke="#000" stroke-width="1.89" transform="rotate(15 150.5 387.5)"/>
<path d="M153,383.5 A3,4.2 0 1 0 153,391.5" fill="none" stroke="#000" stroke-width="3.24"/>
<path d="M20,396 L23,390.5 L31,389 L37,392 L38.5,398 L38,405 L34,409.5 L26,410 L20.5,406 L19,400 Z" fill="#fff" stroke="#000" stroke-width="2.16" stroke-linejoin="round" stroke-linecap="round"/>
<polyline points="23.0,390.5 25.0,398.0 23.0,407.5" fill="none" stroke="#000" stroke-width="1.62" stroke-linejoin="round" stroke-linecap="round" />
<polyline points="31.0,389.0 32.0,398.0 30.0,409.8" fill="none" stroke="#000" stroke-width="1.62" stroke-linejoin="round" stroke-linecap="round" />
<path d="M37.5,394 L41,394.5 Q43.5,399 42.5,404.5 L38,406 Z" fill="#fff" stroke="#000" stroke-width="1.89" stroke-linejoin="round" stroke-linecap="round"/>
<line x1="38.0" y1="395.0" x2="38.0" y2="405.0" stroke="#000" stroke-width="1.35" stroke-linecap="butt"/>
<line x1="39.2" y1="395.3" x2="39.2" y2="405.3" stroke="#000" stroke-width="1.35" stroke-linecap="butt"/>
<line x1="40.4" y1="395.6" x2="40.4" y2="405.6" stroke="#000" stroke-width="1.35" stroke-linecap="butt"/>
<polyline points="20.5,397.0 28.0,399.0 38.3,398.0" fill="none" stroke="#000" stroke-width="1.49" stroke-linejoin="round" stroke-linecap="round" />
<line x1="52.0" y1="407.7" x2="72.0" y2="414.0" stroke="#000" stroke-width="2.16" stroke-linecap="butt"/>
<ellipse cx="53.0" cy="408.0" rx="1.3" ry="1.3" fill="#fff" stroke="#000" stroke-width="1.35" transform="rotate(0 53.0 408.0)"/>
<path d="M75,414 Q76,410 80,411 L88,413 Q92,415 91,419 L90,424 Q88,427 84,426 L77,424 Q74,422 74.7,419 Z" fill="#fff" stroke="#000" stroke-width="1.89" stroke-linejoin="round" stroke-linecap="round"/>
<line x1="91.0" y1="421.0" x2="101.0" y2="424.0" stroke="#000" stroke-width="3.38" stroke-linecap="butt"/>
<ellipse cx="102.5" cy="424.5" rx="3.0" ry="3.8" fill="#fff" stroke="#000" stroke-width="1.76" transform="rotate(0 102.5 424.5)"/>
<polyline points="106.4,426.7 124.0,431.7 152.0,410.0 174.8,416.5" fill="none" stroke="#000" stroke-width="1.35" stroke-linejoin="round" stroke-linecap="round" stroke-dasharray="12 4.5" />
<polygon points="156.5,503.5 118.7,489.6 117.3,493.4 155.1,507.3" fill="#fff" stroke="#000" stroke-width="1.62" stroke-linejoin="round" />
<line x1="155.6" y1="503.2" x2="153.0" y2="506.5" stroke="#000" stroke-width="1.22" stroke-linecap="butt"/>
<line x1="153.5" y1="502.4" x2="151.0" y2="505.8" stroke="#000" stroke-width="1.22" stroke-linecap="butt"/>
<line x1="151.4" y1="501.7" x2="148.9" y2="505.0" stroke="#000" stroke-width="1.22" stroke-linecap="butt"/>
<line x1="149.4" y1="500.9" x2="146.9" y2="504.2" stroke="#000" stroke-width="1.22" stroke-linecap="butt"/>
<line x1="147.3" y1="500.1" x2="144.8" y2="503.5" stroke="#000" stroke-width="1.22" stroke-linecap="butt"/>
<line x1="145.2" y1="499.4" x2="142.7" y2="502.7" stroke="#000" stroke-width="1.22" stroke-linecap="butt"/>
<line x1="143.2" y1="498.6" x2="140.7" y2="502.0" stroke="#000" stroke-width="1.22" stroke-linecap="butt"/>
<line x1="141.1" y1="497.9" x2="138.6" y2="501.2" stroke="#000" stroke-width="1.22" stroke-linecap="butt"/>
<line x1="139.0" y1="497.1" x2="136.5" y2="500.4" stroke="#000" stroke-width="1.22" stroke-linecap="butt"/>
<line x1="137.0" y1="496.3" x2="134.5" y2="499.7" stroke="#000" stroke-width="1.22" stroke-linecap="butt"/>
<path d="M112,488 L117,486.5 L120,491 L118,496 L113,495.5 L110.5,491 Z" fill="#fff" stroke="#000" stroke-width="1.76" stroke-linejoin="round" stroke-linecap="round"/>
<polyline points="157.0,506.0 167.0,508.0" fill="none" stroke="#000" stroke-width="1.35" stroke-linejoin="round" stroke-linecap="round" stroke-dasharray="12 4.5" />
<path d="M115.3,520.5 L119.5,521.5 L120,526 L116,525 Z" fill="#fff" stroke="#000" stroke-width="1.62" stroke-linejoin="round" stroke-linecap="round"/>
<path d="M119.5,521.5 L131,525 L131,532.5 L119.5,529 Z" fill="#fff" stroke="#000" stroke-width="1.76" stroke-linejoin="round" stroke-linecap="round"/>
<line x1="121.0" y1="522.2" x2="121.0" y2="529.6" stroke="#000" stroke-width="1.22" stroke-linecap="butt"/>
<line x1="123.1" y1="522.9" x2="123.1" y2="530.3" stroke="#000" stroke-width="1.22" stroke-linecap="butt"/>
<line x1="125.2" y1="523.6" x2="125.2" y2="531.0" stroke="#000" stroke-width="1.22" stroke-linecap="butt"/>
<line x1="127.3" y1="524.3" x2="127.3" y2="531.7" stroke="#000" stroke-width="1.22" stroke-linecap="butt"/>
<line x1="129.4" y1="525.0" x2="129.4" y2="532.4" stroke="#000" stroke-width="1.22" stroke-linecap="butt"/>
<path d="M131,523.5 L135,522.5 L141.5,525 L142,537 L138,539 L131,536 Z" fill="#fff" stroke="#000" stroke-width="2.03" stroke-linejoin="round" stroke-linecap="round"/>
<polyline points="135.0,522.5 136.0,537.5" fill="none" stroke="#000" stroke-width="1.49" stroke-linejoin="round" stroke-linecap="round" />
<polyline points="131.0,529.5 142.0,531.5" fill="none" stroke="#000" stroke-width="1.35" stroke-linejoin="round" stroke-linecap="round" />
<path d="M142,528.5 L150,531 Q153.5,533 153.3,537 Q152,540.5 149,540 L142,537.5 Z" fill="#fff" stroke="#000" stroke-width="1.89" stroke-linejoin="round" stroke-linecap="round"/>
<ellipse cx="151.3" cy="536.5" rx="2.2" ry="3.4" fill="#fff" stroke="#000" stroke-width="1.62" transform="rotate(15 151.3 536.5)"/>
<polyline points="154.0,540.0 174.8,546.4" fill="none" stroke="#000" stroke-width="1.35" stroke-linejoin="round" stroke-linecap="round" stroke-dasharray="12 4.5" />
<polygon points="187.4,381.6 199.3,381.6 208.9,386.9 210.0,390.5 214.8,395.3 219.6,399.4 226.8,400.0 228.5,403.6 228.5,409.6 231.5,416.7 236.3,426.3 237.5,431.0 234.5,435.8 232.7,445.3 228.0,458.5 226.8,469.2 230.3,479.9 233.9,485.9 236.2,488.4 235.5,495.4 229.9,503.8 224.3,519.1 225.7,527.5 231.3,538.7 233.4,545.7 230.6,552.7 225.7,563.9 221.5,575.0 222.2,580.7 218.7,586.2 216.6,594.6 211.7,603.0 200.5,610.0 195.0,610.7 183.1,604.4 179.6,597.4 176.8,590.4 171.9,577.9 167.0,573.7 169.1,563.9 173.3,555.1 176.4,545.2 178.5,533.8 175.4,527.6 172.3,519.3 169.1,517.2 166.6,513.1 168.1,505.8 172.3,502.7 175.4,494.4 178.5,484.0 179.5,475.7 175.4,467.4 174.3,459.1 168.3,453.7 168.9,447.7 177.9,425.0 173.7,422.7 174.3,407.2 174.9,391.1" fill="#fff" stroke="#000" stroke-width="2.03" stroke-linejoin="round" />
<polyline points="194.6,414.3 192.2,422.7 186.2,437.0 182.7,451.3 185.7,461.2 187.3,466.4 190.9,475.7 190.9,486.1 187.3,496.5 183.7,506.9 180.6,517.2 181.6,521.4 185.7,523.5 189.9,533.8 188.9,546.3 185.7,555.1 182.0,566.0 181.0,575.0 184.0,590.0 186.5,604.0" fill="none" stroke="#000" stroke-width="1.49" stroke-linejoin="round" stroke-linecap="round" />
<polyline points="169.1,517.2 181.6,521.4" fill="none" stroke="#000" stroke-width="1.49" stroke-linejoin="round" stroke-linecap="round" />
<polyline points="167.0,573.7 181.0,577.0" fill="none" stroke="#000" stroke-width="1.49" stroke-linejoin="round" stroke-linecap="round" />
<path d="M181.6,469.5 L184.2,469 L187.3,475.7 L186.3,489.2 L183.7,493.9 L181.6,492.3 Z" fill="#fff" stroke="#000" stroke-width="1.62" stroke-linejoin="round" stroke-linecap="round"/>
<path d="M182.2,471 L182.2,491" stroke="#000" stroke-width="2.43"/>
<path d="M180.6,528.7 L183.2,528.7 L186.8,534.9 L185.7,548.4 L182.6,552 L180.6,550.4 Z" fill="#fff" stroke="#000" stroke-width="1.62" stroke-linejoin="round" stroke-linecap="round"/>
<path d="M179.5,532.8 L179.5,546" stroke="#000" stroke-width="2.97"/>
<path d="M174.7,391.3 L187.2,383.4 L188.5,381.5 L200,381.5 L209.5,386.5 L210.5,391 L214,394.7 L213.5,403 L208,409.5 L196,409 L193,405 L186,406 L181,410 L179.6,410.6 L179.6,423.5 L174.2,423 L174.2,410.6 L176,405 Z" fill="#fff" stroke="#000" stroke-width="2.03" stroke-linejoin="round" stroke-linecap="round"/>
<path d="M178.5,394 Q179,392 182,392.3 L189.5,393.5 Q192.5,395 191.5,398.5 L190.5,400.5 Q189,402 186,401.5 L180.5,400 Q178,399 178.5,396 Z" fill="#fff" stroke="#000" stroke-width="1.76" stroke-linejoin="round" stroke-linecap="round"/>
<polyline points="188.5,381.5 187.0,385.0 206.0,390.5 210.5,391.0" fill="none" stroke="#000" stroke-width="1.49" stroke-linejoin="round" stroke-linecap="round" />
<polyline points="194.0,396.0 196.0,409.0" fill="none" stroke="#000" stroke-width="1.62" stroke-linejoin="round" stroke-linecap="round" />
<polyline points="197.0,394.5 199.0,408.0" fill="none" stroke="#000" stroke-width="1.35" stroke-linejoin="round" stroke-linecap="round" />
<polyline points="200.0,393.0 202.0,407.0" fill="none" stroke="#000" stroke-width="1.35" stroke-linejoin="round" stroke-linecap="round" />
<polyline points="194.0,396.0 205.0,392.5 214.0,394.7" fill="none" stroke="#000" stroke-width="1.49" stroke-linejoin="round" stroke-linecap="round" />
<polyline points="175.0,409.5 179.6,410.6" fill="none" stroke="#000" stroke-width="1.35" stroke-linejoin="round" stroke-linecap="round" />
<polyline points="176.0,412.0 176.0,422.0" fill="none" stroke="#000" stroke-width="1.08" stroke-linejoin="round" stroke-linecap="round" />
<ellipse cx="209.5" cy="443.5" rx="10.7" ry="18.2" fill="#fff" stroke="#000" stroke-width="1.89" transform="rotate(12 209.5 443.5)"/>
<path d="M204.5,437.5 A2,2.6 0 1 0 204.5,442.5" fill="none" stroke="#000" stroke-width="2.56"/>
<ellipse cx="208.2" cy="502.4" rx="10.7" ry="18.2" fill="#fff" stroke="#000" stroke-width="1.89" transform="rotate(12 208.2 502.4)"/>
<path d="M203.2,496.4 A2,2.6 0 1 0 203.2,501.4" fill="none" stroke="#000" stroke-width="2.56"/>
<ellipse cx="207.5" cy="559.0" rx="10.7" ry="18.2" fill="#fff" stroke="#000" stroke-width="1.89" transform="rotate(12 207.5 559.0)"/>
<path d="M202.5,553 A2,2.6 0 1 0 202.5,558" fill="none" stroke="#000" stroke-width="2.56"/>
<ellipse cx="212.5" cy="408.4" rx="1.6" ry="2.0" fill="#fff" stroke="#000" stroke-width="1.49" transform="rotate(0 212.5 408.4)"/>
<ellipse cx="224.4" cy="406.6" rx="1.6" ry="2.0" fill="#fff" stroke="#000" stroke-width="1.49" transform="rotate(0 224.4 406.6)"/>
<ellipse cx="197.6" cy="417.3" rx="1.6" ry="2.0" fill="#fff" stroke="#000" stroke-width="1.49" transform="rotate(0 197.6 417.3)"/>
<ellipse cx="234.5" cy="432.2" rx="1.6" ry="2.0" fill="#fff" stroke="#000" stroke-width="1.49" transform="rotate(0 234.5 432.2)"/>
<ellipse cx="184.4" cy="454.3" rx="1.6" ry="2.0" fill="#fff" stroke="#000" stroke-width="1.49" transform="rotate(0 184.4 454.3)"/>
<ellipse cx="222.6" cy="466.8" rx="1.6" ry="2.0" fill="#fff" stroke="#000" stroke-width="1.49" transform="rotate(0 222.6 466.8)"/>
<ellipse cx="195.8" cy="479.9" rx="1.6" ry="2.0" fill="#fff" stroke="#000" stroke-width="1.49" transform="rotate(0 195.8 479.9)"/>
<ellipse cx="232.0" cy="489.8" rx="1.6" ry="2.0" fill="#fff" stroke="#000" stroke-width="1.49" transform="rotate(0 232.0 489.8)"/>
<ellipse cx="183.8" cy="515.0" rx="1.6" ry="2.0" fill="#fff" stroke="#000" stroke-width="1.49" transform="rotate(0 183.8 515.0)"/>
<ellipse cx="194.3" cy="538.7" rx="1.6" ry="2.0" fill="#fff" stroke="#000" stroke-width="1.49" transform="rotate(0 194.3 538.7)"/>
<ellipse cx="220.1" cy="524.7" rx="1.6" ry="2.0" fill="#fff" stroke="#000" stroke-width="1.49" transform="rotate(0 220.1 524.7)"/>
<ellipse cx="229.9" cy="547.1" rx="1.6" ry="2.0" fill="#fff" stroke="#000" stroke-width="1.49" transform="rotate(0 229.9 547.1)"/>
<ellipse cx="183.1" cy="573.0" rx="1.6" ry="2.0" fill="#fff" stroke="#000" stroke-width="1.49" transform="rotate(0 183.1 573.0)"/>
<ellipse cx="219.4" cy="580.0" rx="1.6" ry="2.0" fill="#fff" stroke="#000" stroke-width="1.49" transform="rotate(0 219.4 580.0)"/>
<ellipse cx="192.9" cy="595.3" rx="1.6" ry="2.0" fill="#fff" stroke="#000" stroke-width="1.49" transform="rotate(0 192.9 595.3)"/>
<ellipse cx="213.0" cy="409.5" rx="2.6" ry="3.8" fill="#fff" stroke="#000" stroke-width="1.89" transform="rotate(15 213.0 409.5)"/>
<path d="M196.3,593 L206,591.8 L206.1,604 L196.3,606 Z" fill="#fff" stroke="#000" stroke-width="1.62" stroke-linejoin="round" stroke-linecap="round"/>
<line x1="203.0" y1="594.0" x2="203.0" y2="603.0" stroke="#000" stroke-width="2.03" stroke-linecap="butt"/>
<polygon points="271.1,421.4 275.6,418.6 280.2,419.1 282.5,422.0 285.9,424.3 291.6,423.1 292.7,427.1 293.9,435.1 297.3,443.1 301.3,449.3 301.8,455.6 298.4,460.2 295.0,469.3 292.2,478.4 291.6,485.2 296.1,495.5 299.8,503.0 300.5,510.0 298.5,516.8 295.0,524.0 292.0,532.4 290.7,542.7 292.0,554.4 297.2,563.5 297.8,570.0 293.9,576.4 290.7,588.1 287.0,597.0 286.0,605.0 282.0,611.0 281.0,621.0 261.0,633.5 258.5,632.0 258.0,625.0 253.0,623.0 252.0,613.0 247.0,604.0 242.5,600.0 243.4,593.3 248.0,584.2 253.1,572.5 254.4,560.9 253.1,551.8 248.0,544.0 244.7,538.9 246.7,532.4 251.8,516.8 254.4,500.0 254.5,492.1 250.5,485.2 246.0,483.0 244.3,478.4 246.0,473.8 250.0,467.0 252.3,457.9 255.1,451.0 256.8,441.9 259.1,436.2 264.2,433.9 268.2,432.8 268.8,427.1" fill="#fff" stroke="#000" stroke-width="2.03" stroke-linejoin="round" />
<ellipse cx="272.8" cy="465.9" rx="16.2" ry="27.6" fill="#fff" stroke="#000" stroke-width="1.35" transform="rotate(12 272.8 465.9)"/>
<ellipse cx="272.8" cy="465.9" rx="14.6" ry="25.9" fill="none" stroke="#000" stroke-width="2.03" transform="rotate(12 272.8 465.9)"/>
<ellipse cx="271.8" cy="524.4" rx="16.2" ry="27.6" fill="#fff" stroke="#000" stroke-width="1.35" transform="rotate(12 271.8 524.4)"/>
<ellipse cx="271.8" cy="524.4" rx="14.6" ry="25.9" fill="none" stroke="#000" stroke-width="2.03" transform="rotate(12 271.8 524.4)"/>
<ellipse cx="271.3" cy="581.6" rx="16.2" ry="27.6" fill="#fff" stroke="#000" stroke-width="1.35" transform="rotate(12 271.3 581.6)"/>
<ellipse cx="271.3" cy="581.6" rx="14.6" ry="25.9" fill="none" stroke="#000" stroke-width="2.03" transform="rotate(12 271.3 581.6)"/>
<ellipse cx="275.6" cy="431.1" rx="4.0" ry="7.0" fill="#fff" stroke="#000" stroke-width="1.76" transform="rotate(15 275.6 431.1)"/>
<ellipse cx="260.8" cy="440.2" rx="1.7" ry="2.4" fill="#fff" stroke="#000" stroke-width="1.49" transform="rotate(15 260.8 440.2)"/>
<ellipse cx="288.2" cy="428.2" rx="1.7" ry="2.4" fill="#fff" stroke="#000" stroke-width="1.49" transform="rotate(15 288.2 428.2)"/>
<ellipse cx="297.9" cy="454.5" rx="1.7" ry="2.4" fill="#fff" stroke="#000" stroke-width="1.49" transform="rotate(15 297.9 454.5)"/>
<ellipse cx="248.8" cy="477.3" rx="1.7" ry="2.4" fill="#fff" stroke="#000" stroke-width="1.49" transform="rotate(15 248.8 477.3)"/>
<ellipse cx="285.9" cy="488.7" rx="1.7" ry="2.4" fill="#fff" stroke="#000" stroke-width="1.49" transform="rotate(15 285.9 488.7)"/>
<ellipse cx="259.6" cy="501.9" rx="1.7" ry="2.4" fill="#fff" stroke="#000" stroke-width="1.49" transform="rotate(15 259.6 501.9)"/>
<ellipse cx="296.5" cy="513.0" rx="1.7" ry="2.4" fill="#fff" stroke="#000" stroke-width="1.49" transform="rotate(15 296.5 513.0)"/>
<ellipse cx="247.3" cy="537.6" rx="1.7" ry="2.4" fill="#fff" stroke="#000" stroke-width="1.49" transform="rotate(15 247.3 537.6)"/>
<ellipse cx="284.2" cy="547.3" rx="1.7" ry="2.4" fill="#fff" stroke="#000" stroke-width="1.49" transform="rotate(15 284.2 547.3)"/>
<ellipse cx="259.0" cy="560.9" rx="1.7" ry="2.4" fill="#fff" stroke="#000" stroke-width="1.49" transform="rotate(15 259.0 560.9)"/>
<ellipse cx="294.6" cy="568.7" rx="1.7" ry="2.4" fill="#fff" stroke="#000" stroke-width="1.49" transform="rotate(15 294.6 568.7)"/>
<ellipse cx="247.3" cy="595.9" rx="1.7" ry="2.4" fill="#fff" stroke="#000" stroke-width="1.49" transform="rotate(15 247.3 595.9)"/>
<ellipse cx="282.9" cy="602.3" rx="1.7" ry="2.4" fill="#fff" stroke="#000" stroke-width="1.49" transform="rotate(15 282.9 602.3)"/>
<ellipse cx="257.5" cy="617.0" rx="1.7" ry="2.4" fill="#fff" stroke="#000" stroke-width="1.49" transform="rotate(15 257.5 617.0)"/>
<ellipse cx="264.0" cy="623.0" rx="2.5" ry="4.5" fill="#fff" stroke="#000" stroke-width="1.62" transform="rotate(20 264.0 623.0)"/>
<ellipse cx="275.5" cy="616.0" rx="3.0" ry="5.0" fill="#fff" stroke="#000" stroke-width="1.62" transform="rotate(20 275.5 616.0)"/>
<ellipse cx="291.6" cy="440.8" rx="0.9" ry="0.9" fill="#000" stroke="#000" stroke-width="0.54" transform="rotate(0 291.6 440.8)"/>
<ellipse cx="256.8" cy="456.2" rx="0.9" ry="0.9" fill="#000" stroke="#000" stroke-width="0.54" transform="rotate(0 256.8 456.2)"/>
<ellipse cx="289.3" cy="475.6" rx="0.9" ry="0.9" fill="#000" stroke="#000" stroke-width="0.54" transform="rotate(0 289.3 475.6)"/>
<ellipse cx="255.1" cy="491.0" rx="0.9" ry="0.9" fill="#000" stroke="#000" stroke-width="0.54" transform="rotate(0 255.1 491.0)"/>
<ellipse cx="280.2" cy="492.1" rx="0.9" ry="0.9" fill="#000" stroke="#000" stroke-width="0.54" transform="rotate(0 280.2 492.1)"/>
<ellipse cx="265.4" cy="499.5" rx="0.9" ry="0.9" fill="#000" stroke="#000" stroke-width="0.54" transform="rotate(0 265.4 499.5)"/>
<ellipse cx="290.4" cy="499.5" rx="0.9" ry="0.9" fill="#000" stroke="#000" stroke-width="0.54" transform="rotate(0 290.4 499.5)"/>
<ellipse cx="256.4" cy="516.2" rx="0.9" ry="0.9" fill="#000" stroke="#000" stroke-width="0.54" transform="rotate(0 256.4 516.2)"/>
<ellipse cx="288.1" cy="533.0" rx="0.9" ry="0.9" fill="#000" stroke="#000" stroke-width="0.54" transform="rotate(0 288.1 533.0)"/>
<ellipse cx="254.4" cy="549.2" rx="0.9" ry="0.9" fill="#000" stroke="#000" stroke-width="0.54" transform="rotate(0 254.4 549.2)"/>
<ellipse cx="264.8" cy="558.3" rx="0.9" ry="0.9" fill="#000" stroke="#000" stroke-width="0.54" transform="rotate(0 264.8 558.3)"/>
<ellipse cx="288.1" cy="555.7" rx="0.9" ry="0.9" fill="#000" stroke="#000" stroke-width="0.54" transform="rotate(0 288.1 555.7)"/>
<ellipse cx="255.1" cy="574.5" rx="0.9" ry="0.9" fill="#000" stroke="#000" stroke-width="0.54" transform="rotate(0 255.1 574.5)"/>
<ellipse cx="286.8" cy="589.4" rx="0.9" ry="0.9" fill="#000" stroke="#000" stroke-width="0.54" transform="rotate(0 286.8 589.4)"/>
<ellipse cx="253.8" cy="607.5" rx="0.9" ry="0.9" fill="#000" stroke="#000" stroke-width="0.54" transform="rotate(0 253.8 607.5)"/>
<ellipse cx="270.0" cy="610.8" rx="0.9" ry="0.9" fill="#000" stroke="#000" stroke-width="0.54" transform="rotate(0 270.0 610.8)"/>
<polygon points="304.6,475.4 308.2,469.4 320.5,468.5 320.5,451.0 325.0,447.5 329.5,451.0 337.0,446.0 337.0,441.0 344.0,438.2 351.4,440.0 352.0,438.2 368.0,441.0 371.8,445.0 371.8,455.0 377.8,451.4 391.0,449.0 405.4,450.2 407.8,455.0 411.0,453.0 415.0,455.0 415.0,463.0 429.4,467.0 441.4,470.6 448.6,475.4 452.0,490.0 456.2,527.0 457.7,579.2 455.5,600.0 454.0,613.5 441.7,633.8 441.0,662.8 433.0,670.1 424.3,665.7 422.9,657.0 404.0,657.0 403.3,671.5 392.4,681.7 389.5,697.6 383.0,702.5 314.0,670.4 304.4,665.6 305.2,654.3 312.4,649.5 313.3,640.0 313.3,625.9 308.3,614.3 309.9,606.0 318.2,587.7 317.4,579.5 309.9,569.5 306.6,557.9 309.9,546.3 317.4,531.4 318.2,523.1 311.6,513.2 306.6,499.9 308.1,493.3 304.6,488.6" fill="#fff" stroke="#000" stroke-width="2.16" stroke-linejoin="round" />
<path d="M304.6,475.4 L308.2,469.4 L328.6,468.2 L331,473 L329.8,482.6 L326.2,493.4 L304.6,488.6 Z" fill="#fff" stroke="#000" stroke-width="1.89" stroke-linejoin="round" stroke-linecap="round"/>
<polyline points="304.6,475.4 326.0,479.5 331.0,473.0" fill="none" stroke="#000" stroke-width="1.62" stroke-linejoin="round" stroke-linecap="round" />
<polyline points="326.0,479.5 326.2,493.4" fill="none" stroke="#000" stroke-width="1.62" stroke-linejoin="round" stroke-linecap="round" />
<ellipse cx="308.2" cy="483.8" rx="2.6" ry="2.8" fill="#fff" stroke="#000" stroke-width="1.76" transform="rotate(0 308.2 483.8)"/>
<ellipse cx="317.8" cy="486.9" rx="2.4" ry="2.6" fill="#fff" stroke="#000" stroke-width="1.76" transform="rotate(0 317.8 486.9)"/>
<ellipse cx="317.8" cy="486.9" rx="1.0" ry="1.0" fill="#000" stroke="#000" stroke-width="0.54" transform="rotate(0 317.8 486.9)"/>
<ellipse cx="321.4" cy="473.0" rx="6.5" ry="3.0" fill="#fff" stroke="#000" stroke-width="1.76" transform="rotate(0 321.4 473.0)"/>
<ellipse cx="321.4" cy="473.0" rx="4.0" ry="1.8" fill="#fff" stroke="#000" stroke-width="1.49" transform="rotate(0 321.4 473.0)"/>
<path d="M320.5,468 L320.5,451 Q321,447.5 325,447.5 Q329,447.5 329.5,451 L329.5,468 Z" fill="#fff" stroke="#000" stroke-width="1.76" stroke-linejoin="round" stroke-linecap="round"/>
<polyline points="320.8,451.5 325.0,453.0 329.3,451.5" fill="none" stroke="#000" stroke-width="1.35" stroke-linejoin="round" stroke-linecap="round" />
<path d="M327,452 L342.5,455 L345.4,458 L345.4,469.4 L343,470 L330,466.5 L327,466 Z" fill="#fff" stroke="#000" stroke-width="1.76" stroke-linejoin="round" stroke-linecap="round"/>
<polyline points="342.5,455.0 342.5,470.0" fill="none" stroke="#000" stroke-width="1.35" stroke-linejoin="round" stroke-linecap="round" />
<ellipse cx="340.6" cy="459.5" rx="1.3" ry="1.8" fill="#000" stroke="#000" stroke-width="0.68" transform="rotate(0 340.6 459.5)"/>
<path d="M337,455 L337,441 Q337.5,438.2 344,438.2 Q351,438.2 351.4,441 L351.4,456.2 Z" fill="#fff" stroke="#000" stroke-width="1.76" stroke-linejoin="round" stroke-linecap="round"/>
<polyline points="337.2,441.2 344.0,443.5 351.2,441.2" fill="none" stroke="#000" stroke-width="1.35" stroke-linejoin="round" stroke-linecap="round" />
<path d="M351.4,440.5 L352.5,438.2 L368,441 L371.8,445 L371.8,457 L366,456 L352,452.5 Z" fill="#fff" stroke="#000" stroke-width="1.76" stroke-linejoin="round" stroke-linecap="round"/>
<polyline points="366.0,443.5 366.0,456.0" fill="none" stroke="#000" stroke-width="1.35" stroke-linejoin="round" stroke-linecap="round" />
<ellipse cx="368.5" cy="448.5" rx="1.3" ry="1.8" fill="#000" stroke="#000" stroke-width="0.68" transform="rotate(0 368.5 448.5)"/>
<path d="M407.8,464 L407.8,455.5 Q408.5,453 411.4,453 Q414.4,453 415,455.5 L415,465 Z" fill="#fff" stroke="#000" stroke-width="1.76" stroke-linejoin="round" stroke-linecap="round"/>
<polyline points="331.0,486.2 386.2,504.2" fill="none" stroke="#000" stroke-width="1.76" stroke-linejoin="round" stroke-linecap="round" />
<polyline points="329.5,491.5 385.0,510.0" fill="none" stroke="#000" stroke-width="1.49" stroke-linejoin="round" stroke-linecap="round" />
<path d="M380.2,473 Q381,470.6 385,470.6 Q389.5,470.6 389.8,473 L389.8,489.8 L380.2,488 Z" fill="#fff" stroke="#000" stroke-width="1.76" stroke-linejoin="round" stroke-linecap="round"/>
<polyline points="380.4,473.2 385.0,475.0 389.6,473.2" fill="none" stroke="#000" stroke-width="1.35" stroke-linejoin="round" stroke-linecap="round" />
<path d="M374.2,484 L380.2,482.6 L380.2,497 L374.2,496 Z" fill="#fff" stroke="#000" stroke-width="1.62" stroke-linejoin="round" stroke-linecap="round"/>
<path d="M391.7,471 Q400,466 412,466.5 Q426,467 433.3,470.5 L433,476 Q431,485 412,485 Q395,485 392.8,480 Z" fill="#fff" stroke="#000" stroke-width="1.76" stroke-linejoin="round" stroke-linecap="round"/>
<path d="M401.3,476 Q403,472 412,472 Q424,472.5 426.9,476 Q424,482.5 412,483 Q403,482 401.3,476 Z" fill="#fff" stroke="#000" stroke-width="1.76" stroke-linejoin="round" stroke-linecap="round"/>
<path d="M402,477 Q405,482 412,482.5" fill="none" stroke="#000" stroke-width="2.16"/>
<polyline points="426.9,473.9 426.9,486.7" fill="none" stroke="#000" stroke-width="1.62" stroke-linejoin="round" stroke-linecap="round" />
<polyline points="433.0,470.5 439.7,470.7 449.3,479.2" fill="none" stroke="#000" stroke-width="1.76" stroke-linejoin="round" stroke-linecap="round" />
<polyline points="389.6,505.5 386.0,520.0 386.0,560.0 385.0,600.0 384.0,640.0 383.0,702.5" fill="none" stroke="#000" stroke-width="1.62" stroke-linejoin="round" stroke-linecap="round" />
<polyline points="384.3,505.0 381.0,520.0 381.0,560.0 380.0,600.0 379.0,640.0 378.0,700.0" fill="none" stroke="#000" stroke-width="1.35" stroke-linejoin="round" stroke-linecap="round" />
<path d="M407.9,503.3 Q404,516.8 399,522.9 L392,529.3 Q396,534.3 400,533.3 Q406,528.3 413,529.5 L423.3,531.3 L430.8,523.9 L435,514.8 L438.2,506.1 Z" fill="#fff" stroke="#000" stroke-width="1.76" stroke-linejoin="round" stroke-linecap="round"/>
<path d="M407.9,488.8 Q420,489.3 433.5,493.0 Q439.5,495.8 439.2,499.3 L438.2,506.1 Q425,503.3 407.9,503.3 Z" fill="#fff" stroke="#000" stroke-width="1.89" stroke-linejoin="round" stroke-linecap="round"/>
<polyline points="408.8,493.8 433.0,497.3 439.0,499.8" fill="none" stroke="#000" stroke-width="1.35" stroke-linejoin="round" stroke-linecap="round" />
<polyline points="412.1,509.8 436.8,510.3" fill="none" stroke="#000" stroke-width="1.62" stroke-linejoin="round" stroke-linecap="round" />
<polyline points="411.6,522.0 430.8,523.9" fill="none" stroke="#000" stroke-width="1.62" stroke-linejoin="round" stroke-linecap="round" />
<polyline points="407.9,503.3 412.1,509.8 411.6,522.0 404.0,526.8" fill="none" stroke="#000" stroke-width="1.35" stroke-linejoin="round" stroke-linecap="round" />
<polyline points="423.3,531.3 423.3,545.3" fill="none" stroke="#000" stroke-width="1.62" stroke-linejoin="round" stroke-linecap="round" />
<polyline points="408.8,486.7 401.3,500.5 397.0,506.9 392.8,521.9 391.7,528.3 398.1,534.7 404.5,538.9 406.1,545.3" fill="none" stroke="#000" stroke-width="1.89" stroke-linejoin="round" stroke-linecap="round" />
<polyline points="446.7,486.7 446.1,500.5 448.3,512.3 444.0,515.5 438.7,524.0 436.5,534.7 439.7,538.9 444.0,543.2 448.3,550.7" fill="none" stroke="#000" stroke-width="1.76" stroke-linejoin="round" stroke-linecap="round" />
<path d="M405.8,491.3 A1.9,2.2 0 1 0 405.8,494.90000000000003" fill="none" stroke="#000" stroke-width="2.56"/>
<path d="M445.3,486.5 A1.9,2.2 0 1 0 445.3,490.1" fill="none" stroke="#000" stroke-width="2.56"/>
<path d="M390.90000000000003,509.4 A1.9,2.2 0 1 0 390.90000000000003,513.0" fill="none" stroke="#000" stroke-width="2.56"/>
<path d="M444.2,512.6 A1.9,2.2 0 1 0 444.2,516.1999999999999" fill="none" stroke="#000" stroke-width="2.56"/>
<path d="M431.40000000000003,532.9000000000001 A1.9,2.2 0 1 0 431.40000000000003,536.5" fill="none" stroke="#000" stroke-width="2.56"/>
<path d="M389.8,539.3000000000001 A1.9,2.2 0 1 0 389.8,542.9" fill="none" stroke="#000" stroke-width="2.56"/>
<path d="M407.9,561.3 Q404,574.8 399,580.9 L392,587.3 Q396,592.3 400,591.3 Q406,586.3 413,587.5 L423.3,589.3 L430.8,581.9 L435,572.8 L438.2,564.0999999999999 Z" fill="#fff" stroke="#000" stroke-width="1.76" stroke-linejoin="round" stroke-linecap="round"/>
<path d="M407.9,546.8 Q420,547.3 433.5,551.0 Q439.5,553.8 439.2,557.3 L438.2,564.0999999999999 Q425,561.3 407.9,561.3 Z" fill="#fff" stroke="#000" stroke-width="1.89" stroke-linejoin="round" stroke-linecap="round"/>
<polyline points="408.8,551.8 433.0,555.3 439.0,557.8" fill="none" stroke="#000" stroke-width="1.35" stroke-linejoin="round" stroke-linecap="round" />
<polyline points="412.1,567.8 436.8,568.3" fill="none" stroke="#000" stroke-width="1.62" stroke-linejoin="round" stroke-linecap="round" />
<polyline points="411.6,580.0 430.8,581.9" fill="none" stroke="#000" stroke-width="1.62" stroke-linejoin="round" stroke-linecap="round" />
<polyline points="407.9,561.3 412.1,567.8 411.6,580.0 404.0,584.8" fill="none" stroke="#000" stroke-width="1.35" stroke-linejoin="round" stroke-linecap="round" />
<polyline points="423.3,589.3 423.3,603.3" fill="none" stroke="#000" stroke-width="1.62" stroke-linejoin="round" stroke-linecap="round" />
<polyline points="408.8,544.7 401.3,558.5 397.0,564.9 392.8,579.9 391.7,586.3 398.1,592.7 404.5,596.9 406.1,603.3" fill="none" stroke="#000" stroke-width="1.89" stroke-linejoin="round" stroke-linecap="round" />
<polyline points="446.7,544.7 446.1,558.5 448.3,570.3 444.0,573.5 438.7,582.0 436.5,592.7 439.7,596.9 444.0,601.2 448.3,608.7" fill="none" stroke="#000" stroke-width="1.76" stroke-linejoin="round" stroke-linecap="round" />
<path d="M405.8,549.3 A1.9,2.2 0 1 0 405.8,552.8999999999999" fill="none" stroke="#000" stroke-width="2.56"/>
<path d="M445.3,544.5 A1.9,2.2 0 1 0 445.3,548.0999999999999" fill="none" stroke="#000" stroke-width="2.56"/>
<path d="M390.90000000000003,567.4 A1.9,2.2 0 1 0 390.90000000000003,570.9999999999999" fill="none" stroke="#000" stroke-width="2.56"/>
<path d="M444.2,570.6 A1.9,2.2 0 1 0 444.2,574.1999999999999" fill="none" stroke="#000" stroke-width="2.56"/>
<path d="M431.40000000000003,590.9 A1.9,2.2 0 1 0 431.40000000000003,594.4999999999999" fill="none" stroke="#000" stroke-width="2.56"/>
<path d="M389.8,597.3 A1.9,2.2 0 1 0 389.8,600.8999999999999" fill="none" stroke="#000" stroke-width="2.56"/>
<path d="M407.9,619.8 Q404,633.3 399,639.4 L392,645.8 Q396,650.8 400,649.8 Q406,644.8 413,646.0 L423.3,647.8 L430.8,640.4 L435,631.3 L438.2,622.5999999999999 Z" fill="#fff" stroke="#000" stroke-width="1.76" stroke-linejoin="round" stroke-linecap="round"/>
<path d="M407.9,605.3 Q420,605.8 433.5,609.5 Q439.5,612.3 439.2,615.8 L438.2,622.5999999999999 Q425,619.8 407.9,619.8 Z" fill="#fff" stroke="#000" stroke-width="1.89" stroke-linejoin="round" stroke-linecap="round"/>
<polyline points="408.8,610.3 433.0,613.8 439.0,616.3" fill="none" stroke="#000" stroke-width="1.35" stroke-linejoin="round" stroke-linecap="round" />
<polyline points="412.1,626.3 436.8,626.8" fill="none" stroke="#000" stroke-width="1.62" stroke-linejoin="round" stroke-linecap="round" />
<polyline points="411.6,638.5 430.8,640.4" fill="none" stroke="#000" stroke-width="1.62" stroke-linejoin="round" stroke-linecap="round" />
<polyline points="407.9,619.8 412.1,626.3 411.6,638.5 404.0,643.3" fill="none" stroke="#000" stroke-width="1.35" stroke-linejoin="round" stroke-linecap="round" />
<polyline points="408.8,603.2 401.3,617.0 397.0,623.4 392.8,638.4 391.7,644.8 398.1,651.2 404.5,655.4 406.1,661.8" fill="none" stroke="#000" stroke-width="1.89" stroke-linejoin="round" stroke-linecap="round" />
<polyline points="446.7,603.2 446.1,617.0 448.3,628.8 444.0,632.0 438.7,640.5 436.5,651.2 439.7,655.4 444.0,659.7 448.3,667.2" fill="none" stroke="#000" stroke-width="1.76" stroke-linejoin="round" stroke-linecap="round" />
<path d="M405.8,607.8 A1.9,2.2 0 1 0 405.8,611.3999999999999" fill="none" stroke="#000" stroke-width="2.56"/>
<path d="M445.3,603.0 A1.9,2.2 0 1 0 445.3,606.5999999999999" fill="none" stroke="#000" stroke-width="2.56"/>
<path d="M390.90000000000003,625.9 A1.9,2.2 0 1 0 390.90000000000003,629.4999999999999" fill="none" stroke="#000" stroke-width="2.56"/>
<path d="M444.2,629.1 A1.9,2.2 0 1 0 444.2,632.6999999999999" fill="none" stroke="#000" stroke-width="2.56"/>
<path d="M431.40000000000003,649.4 A1.9,2.2 0 1 0 431.40000000000003,652.9999999999999" fill="none" stroke="#000" stroke-width="2.56"/>
<path d="M389.8,655.8 A1.9,2.2 0 1 0 389.8,659.3999999999999" fill="none" stroke="#000" stroke-width="2.56"/>
<polyline points="449.3,479.2 452.0,492.0 456.8,524.0 458.5,560.0 456.0,600.0 454.0,613.5 447.0,625.0 441.7,633.8" fill="none" stroke="#000" stroke-width="2.03" stroke-linejoin="round" stroke-linecap="round" />
<polyline points="404.0,657.0 422.9,657.0" fill="none" stroke="#000" stroke-width="1.62" stroke-linejoin="round" stroke-linecap="round" />
<polyline points="330.7,494.9 333.2,518.1 338.1,531.4 336.5,546.3 334.0,559.6 335.6,579.5 339.8,592.7 337.3,609.3 338.1,625.9 339.8,640.0" fill="none" stroke="#000" stroke-width="1.49" stroke-linejoin="round" stroke-linecap="round" />
<polyline points="343.9,506.5 344.8,518.1 349.7,533.0 346.4,549.6 344.8,562.9 347.2,579.5 349.7,592.7 346.4,609.3 346.4,625.9" fill="none" stroke="#000" stroke-width="1.49" stroke-linejoin="round" stroke-linecap="round" />
<polyline points="343.9,506.5 348.0,505.0 366.3,512.3 371.3,519.8 382.9,533.0 384.5,545.0" fill="none" stroke="#000" stroke-width="1.62" stroke-linejoin="round" stroke-linecap="round" />
<polyline points="358.0,544.6 384.0,551.0" fill="none" stroke="#000" stroke-width="1.49" stroke-linejoin="round" stroke-linecap="round" />
<polyline points="345.6,577.8 384.0,589.0" fill="none" stroke="#000" stroke-width="1.49" stroke-linejoin="round" stroke-linecap="round" />
<polyline points="359.7,602.7 384.0,610.5" fill="none" stroke="#000" stroke-width="1.49" stroke-linejoin="round" stroke-linecap="round" />
<polyline points="318.2,522.3 334.0,525.3 334.0,534.7" fill="none" stroke="#000" stroke-width="1.49" stroke-linejoin="round" stroke-linecap="round" />
<polyline points="318.2,531.7 334.0,534.7" fill="none" stroke="#000" stroke-width="1.35" stroke-linejoin="round" stroke-linecap="round" />
<polyline points="317.4,579.5 334.8,582.5 334.8,592.7" fill="none" stroke="#000" stroke-width="1.49" stroke-linejoin="round" stroke-linecap="round" />
<polyline points="317.4,589.7 334.8,592.7" fill="none" stroke="#000" stroke-width="1.35" stroke-linejoin="round" stroke-linecap="round" />
<path d="M324.2,506.35 L331.3,496.6 L331.3,505.35 Z" fill="none" stroke="#000" stroke-width="1.49" stroke-linejoin="round" stroke-linecap="round"/>
<path d="M324.2,508.35 L331.3,518.1 L331.3,509.35 Z" fill="none" stroke="#000" stroke-width="1.49" stroke-linejoin="round" stroke-linecap="round"/>
<path d="M325.9,561.05 L332.2,548 L332.2,560.05 Z" fill="none" stroke="#000" stroke-width="1.49" stroke-linejoin="round" stroke-linecap="round"/>
<path d="M325.9,563.05 L332.2,576.1 L332.2,564.05 Z" fill="none" stroke="#000" stroke-width="1.49" stroke-linejoin="round" stroke-linecap="round"/>
<path d="M325.9,613.3 L332.2,602.7 L332.2,612.3 Z" fill="none" stroke="#000" stroke-width="1.49" stroke-linejoin="round" stroke-linecap="round"/>
<path d="M325.9,615.3 L332.2,625.9 L332.2,616.3 Z" fill="none" stroke="#000" stroke-width="1.49" stroke-linejoin="round" stroke-linecap="round"/>
<polyline points="316.0,640.0 325.0,650.0 330.0,655.0 330.0,665.0" fill="none" stroke="#000" stroke-width="1.35" stroke-linejoin="round" stroke-linecap="round" />
<polyline points="314.0,627.0 327.0,634.0 346.0,636.0" fill="none" stroke="#000" stroke-width="1.35" stroke-linejoin="round" stroke-linecap="round" />
<polyline points="348.0,633.0 346.0,640.0 347.0,662.0 352.0,666.0 368.0,672.0" fill="none" stroke="#000" stroke-width="1.49" stroke-linejoin="round" stroke-linecap="round" />
<polyline points="352.0,632.0 351.0,660.0 368.0,667.0" fill="none" stroke="#000" stroke-width="1.35" stroke-linejoin="round" stroke-linecap="round" />
<polyline points="357.0,630.0 367.0,636.0 371.0,650.0 369.0,672.0" fill="none" stroke="#000" stroke-width="1.49" stroke-linejoin="round" stroke-linecap="round" />
<polyline points="374.0,640.0 370.0,660.0 369.0,675.0 383.0,680.0" fill="none" stroke="#000" stroke-width="1.35" stroke-linejoin="round" stroke-linecap="round" />
<ellipse cx="370.0" cy="570.3" rx="12.8" ry="14.0" fill="#fff" stroke="#000" stroke-width="1.89" transform="rotate(0 370.0 570.3)"/>
<ellipse cx="370.5" cy="570.5" rx="10.0" ry="11.0" fill="#fff" stroke="#000" stroke-width="1.49" transform="rotate(0 370.5 570.5)"/>
<ellipse cx="371.0" cy="571.0" rx="7.0" ry="7.8" fill="#fff" stroke="#000" stroke-width="1.35" transform="rotate(0 371.0 571.0)"/>
<path d="M362.2,568.3 L371,565.5 Q375,567 374.6,572 L372,579 L362.2,582.1 Z" fill="#fff" stroke="#000" stroke-width="1.76" stroke-linejoin="round" stroke-linecap="round"/>
<ellipse cx="362.2" cy="575.2" rx="4.2" ry="6.9" fill="#fff" stroke="#000" stroke-width="1.89" transform="rotate(0 362.2 575.2)"/>
<ellipse cx="362.2" cy="575.2" rx="1.8" ry="2.6" fill="#fff" stroke="#000" stroke-width="1.49" transform="rotate(0 362.2 575.2)"/>
<path d="M305.2,654.3 L312.4,649.5 L320,650 L328.5,656 L328.5,668 L318,672 L304.4,665.6 Z" fill="#fff" stroke="#000" stroke-width="1.76" stroke-linejoin="round" stroke-linecap="round"/>
<ellipse cx="310.0" cy="662.4" rx="3.6" ry="3.6" fill="#fff" stroke="#000" stroke-width="1.76" transform="rotate(0 310.0 662.4)"/>
<ellipse cx="310.0" cy="662.4" rx="1.6" ry="1.6" fill="#fff" stroke="#000" stroke-width="1.35" transform="rotate(0 310.0 662.4)"/>
<ellipse cx="318.9" cy="665.6" rx="3.8" ry="3.8" fill="#fff" stroke="#000" stroke-width="1.76" transform="rotate(0 318.9 665.6)"/>
<ellipse cx="318.9" cy="665.6" rx="1.7" ry="1.7" fill="#fff" stroke="#000" stroke-width="1.35" transform="rotate(0 318.9 665.6)"/>
<ellipse cx="363.8" cy="682.4" rx="6.5" ry="6.0" fill="#fff" stroke="#000" stroke-width="1.89" transform="rotate(0 363.8 682.4)"/>
<ellipse cx="363.2" cy="682.8" rx="3.0" ry="2.8" fill="#fff" stroke="#000" stroke-width="1.62" transform="rotate(0 363.2 682.8)"/>
<polyline points="373.3,450.7 373.3,379.2 389.3,384.0" fill="none" stroke="#000" stroke-width="1.35" stroke-linejoin="round" stroke-linecap="round" stroke-dasharray="12 4.5" />
<polygon points="481.1,517.3 500.0,515.0 508.4,513.0 512.0,503.0 515.5,491.2 522.0,494.0 528.0,502.0 529.6,509.0 532.4,507.0 538.0,505.5 545.0,508.0 551.0,511.0 557.0,513.5 562.0,519.0 566.0,530.0 565.6,562.0 559.4,572.0 562.0,586.0 565.6,609.3 564.4,631.6 558.0,638.0 549.5,641.6 564.4,654.0 564.4,688.8 539.5,698.7 520.0,709.0 514.2,717.6 505.0,718.5 499.8,714.0 487.0,710.4 479.0,708.0 479.0,703.2 467.8,701.6 468.7,540.0" fill="#fff" stroke="#000" stroke-width="2.16" stroke-linejoin="round" />
<polyline points="473.6,541.0 473.6,584.0 471.0,590.0 473.6,598.0 473.6,640.0 471.0,646.0 473.6,654.0 473.6,702.0" fill="none" stroke="#000" stroke-width="1.49" stroke-linejoin="round" stroke-linecap="round" />
<polyline points="468.7,540.0 481.1,517.3" fill="none" stroke="#000" stroke-width="1.89" stroke-linejoin="round" stroke-linecap="round" />
<polyline points="473.6,541.0 484.0,521.0" fill="none" stroke="#000" stroke-width="1.35" stroke-linejoin="round" stroke-linecap="round" />
<polyline points="476.0,547.1 500.0,550.1 522.0,554.6" fill="none" stroke="#000" stroke-width="1.76" stroke-linejoin="round" stroke-linecap="round" />
<polyline points="476.0,574.5 500.0,576.5 526.0,579.4" fill="none" stroke="#000" stroke-width="1.89" stroke-linejoin="round" stroke-linecap="round" />
<polyline points="478.0,556.1 500.0,559.1 518.0,563.6" fill="none" stroke="#000" stroke-width="1.35" stroke-linejoin="round" stroke-linecap="round" />
<polyline points="476.0,539.1 488.0,534.1 505.0,532.1 520.0,535.1" fill="none" stroke="#000" stroke-width="1.35" stroke-linejoin="round" stroke-linecap="round" />
<polyline points="476.0,604.0 500.0,607.0 522.0,611.0" fill="none" stroke="#000" stroke-width="1.76" stroke-linejoin="round" stroke-linecap="round" />
<polyline points="476.0,630.0 500.0,632.0 526.0,636.0" fill="none" stroke="#000" stroke-width="1.89" stroke-linejoin="round" stroke-linecap="round" />
<polyline points="478.0,613.0 500.0,616.0 518.0,620.0" fill="none" stroke="#000" stroke-width="1.35" stroke-linejoin="round" stroke-linecap="round" />
<polyline points="476.0,596.0 488.0,591.0 505.0,589.0 520.0,592.0" fill="none" stroke="#000" stroke-width="1.35" stroke-linejoin="round" stroke-linecap="round" />
<polyline points="476.0,662.0 500.0,665.0 522.0,669.0" fill="none" stroke="#000" stroke-width="1.76" stroke-linejoin="round" stroke-linecap="round" />
<polyline points="476.0,690.0 500.0,692.0 526.0,696.0" fill="none" stroke="#000" stroke-width="1.89" stroke-linejoin="round" stroke-linecap="round" />
<polyline points="478.0,671.0 500.0,674.0 518.0,678.0" fill="none" stroke="#000" stroke-width="1.35" stroke-linejoin="round" stroke-linecap="round" />
<polyline points="476.0,654.0 488.0,649.0 505.0,647.0 520.0,650.0" fill="none" stroke="#000" stroke-width="1.35" stroke-linejoin="round" stroke-linecap="round" />
<polygon points="527.1,534.7 540.8,523.5 556.9,523.5 564.4,533.4 565.6,562.0 559.4,572.0 537.0,581.9 524.6,579.4 519.6,564.5" fill="#fff" stroke="#000" stroke-width="2.03" stroke-linejoin="round" />
<polygon points="528.9,536.6 541.1,526.1 555.8,525.9 562.5,535.2 563.2,561.0 557.8,570.0 537.6,579.4 526.1,577.3 521.9,563.4" fill="none" stroke="#000" stroke-width="1.08" stroke-linejoin="round" />
<polygon points="530.8,539.7 561.9,539.7 561.9,559.5 530.8,567.0" fill="#fff" stroke="#000" stroke-width="1.89" stroke-linejoin="round" />
<polygon points="529.2,538.5 563.5,538.5 563.7,560.4 529.4,568.4" fill="none" stroke="#000" stroke-width="1.08" stroke-linejoin="round" />
<polygon points="530.8,539.7 561.9,539.7 561.9,559.5 530.8,567.0" fill="#fff" stroke="#000" stroke-width="1.89" stroke-linejoin="round" />
<polyline points="530.8,553.4 561.9,549.6" fill="none" stroke="#000" stroke-width="1.49" stroke-linejoin="round" stroke-linecap="round" />
<polyline points="533.8,542.7 558.9,549.6" fill="none" stroke="#000" stroke-width="1.22" stroke-linejoin="round" stroke-linecap="round" />
<ellipse cx="529.2" cy="536.5" rx="1.5" ry="1.8" fill="#fff" stroke="#000" stroke-width="1.49" transform="rotate(0 529.2 536.5)"/>
<ellipse cx="555.5" cy="526.6" rx="1.5" ry="1.8" fill="#fff" stroke="#000" stroke-width="1.49" transform="rotate(0 555.5 526.6)"/>
<ellipse cx="563.1" cy="560.5" rx="1.5" ry="1.8" fill="#fff" stroke="#000" stroke-width="1.49" transform="rotate(0 563.1 560.5)"/>
<ellipse cx="538.0" cy="578.0" rx="1.5" ry="1.8" fill="#fff" stroke="#000" stroke-width="1.49" transform="rotate(0 538.0 578.0)"/>
<ellipse cx="522.6" cy="562.7" rx="1.5" ry="1.8" fill="#fff" stroke="#000" stroke-width="1.49" transform="rotate(0 522.6 562.7)"/>
<polygon points="527.1,599.3 537.0,593.1 561.9,594.3 565.6,609.3 564.4,631.6 539.5,639.1 529.6,629.1 522.0,612.0" fill="#fff" stroke="#000" stroke-width="2.03" stroke-linejoin="round" />
<polygon points="529.1,601.0 537.8,595.6 560.1,596.2 563.0,609.8 562.4,629.9 539.9,636.5 531.3,627.2 524.6,612.2" fill="none" stroke="#000" stroke-width="1.08" stroke-linejoin="round" />
<polygon points="529.6,606.8 560.6,601.8 560.6,622.9 529.6,626.7" fill="#fff" stroke="#000" stroke-width="1.89" stroke-linejoin="round" />
<polygon points="527.8,605.9 562.1,600.5 562.4,623.8 528.0,627.9" fill="none" stroke="#000" stroke-width="1.08" stroke-linejoin="round" />
<polygon points="529.6,606.8 560.6,601.8 560.6,622.9 529.6,626.7" fill="#fff" stroke="#000" stroke-width="1.89" stroke-linejoin="round" />
<polyline points="529.6,616.8 560.6,612.3" fill="none" stroke="#000" stroke-width="1.49" stroke-linejoin="round" stroke-linecap="round" />
<polyline points="532.6,609.8 557.6,612.3" fill="none" stroke="#000" stroke-width="1.22" stroke-linejoin="round" stroke-linecap="round" />
<ellipse cx="529.2" cy="601.2" rx="1.5" ry="1.8" fill="#fff" stroke="#000" stroke-width="1.49" transform="rotate(0 529.2 601.2)"/>
<ellipse cx="559.9" cy="596.8" rx="1.5" ry="1.8" fill="#fff" stroke="#000" stroke-width="1.49" transform="rotate(0 559.9 596.8)"/>
<ellipse cx="562.1" cy="629.6" rx="1.5" ry="1.8" fill="#fff" stroke="#000" stroke-width="1.49" transform="rotate(0 562.1 629.6)"/>
<ellipse cx="531.4" cy="627.4" rx="1.5" ry="1.8" fill="#fff" stroke="#000" stroke-width="1.49" transform="rotate(0 531.4 627.4)"/>
<polygon points="529.6,654.0 549.5,641.6 564.4,654.0 564.4,688.8 539.5,698.7 527.1,693.8 524.6,673.9" fill="#fff" stroke="#000" stroke-width="2.03" stroke-linejoin="round" />
<polygon points="531.1,656.1 548.9,644.1 562.4,655.7 562.3,687.2 539.8,696.1 528.6,691.7 527.2,673.6" fill="none" stroke="#000" stroke-width="1.08" stroke-linejoin="round" />
<polygon points="532.1,659.0 559.4,654.0 559.4,683.8 532.1,686.3" fill="#fff" stroke="#000" stroke-width="1.89" stroke-linejoin="round" />
<polygon points="530.6,657.7 560.7,652.4 560.8,685.2 530.8,687.8" fill="none" stroke="#000" stroke-width="1.08" stroke-linejoin="round" />
<polygon points="532.1,659.0 559.4,654.0 559.4,683.8 532.1,686.3" fill="#fff" stroke="#000" stroke-width="1.89" stroke-linejoin="round" />
<polyline points="532.1,672.6 559.4,668.9" fill="none" stroke="#000" stroke-width="1.49" stroke-linejoin="round" stroke-linecap="round" />
<polyline points="535.1,662.0 556.4,668.9" fill="none" stroke="#000" stroke-width="1.22" stroke-linejoin="round" stroke-linecap="round" />
<ellipse cx="531.4" cy="656.1" rx="1.5" ry="1.8" fill="#fff" stroke="#000" stroke-width="1.49" transform="rotate(0 531.4 656.1)"/>
<ellipse cx="562.1" cy="656.1" rx="1.5" ry="1.8" fill="#fff" stroke="#000" stroke-width="1.49" transform="rotate(0 562.1 656.1)"/>
<ellipse cx="540.2" cy="695.4" rx="1.5" ry="1.8" fill="#fff" stroke="#000" stroke-width="1.49" transform="rotate(0 540.2 695.4)"/>
<ellipse cx="527.0" cy="673.6" rx="1.5" ry="1.8" fill="#fff" stroke="#000" stroke-width="1.49" transform="rotate(0 527.0 673.6)"/>
<path d="M486.1,578.7 Q487.1,575.7 491.1,575.7 L501.7,578.7 Q504.7,581.7 503.7,584.9 Q501.7,586.9 498.7,586.9 L489.1,583.9 Q486.1,581.9 486.1,578.7 Z" fill="#fff" stroke="#000" stroke-width="1.76" stroke-linejoin="round" stroke-linecap="round"/>
<ellipse cx="499.7" cy="582.3" rx="3.2" ry="3.8" fill="#fff" stroke="#000" stroke-width="1.62" transform="rotate(0 499.7 582.3)"/>
<ellipse cx="499.7" cy="582.3" rx="1.3" ry="1.6" fill="#fff" stroke="#000" stroke-width="1.35" transform="rotate(0 499.7 582.3)"/>
<path d="M486.1,637.1 Q487.1,634.1 491.1,634.1 L500.5,637.1 Q503.5,640.1 502.5,644.5 Q500.5,646.5 497.5,646.5 L489.1,643.5 Q486.1,641.5 486.1,637.1 Z" fill="#fff" stroke="#000" stroke-width="1.76" stroke-linejoin="round" stroke-linecap="round"/>
<ellipse cx="498.5" cy="641.3" rx="3.2" ry="3.8" fill="#fff" stroke="#000" stroke-width="1.62" transform="rotate(0 498.5 641.3)"/>
<ellipse cx="498.5" cy="641.3" rx="1.3" ry="1.6" fill="#fff" stroke="#000" stroke-width="1.35" transform="rotate(0 498.5 641.3)"/>
<path d="M482.2,693.4 Q483.2,690.4 487.2,690.4 L504.8,693.4 Q507.8,696.4 506.8,704.4 Q504.8,706.4 501.8,706.4 L485.2,703.4 Q482.2,701.4 482.2,693.4 Z" fill="#fff" stroke="#000" stroke-width="1.76" stroke-linejoin="round" stroke-linecap="round"/>
<ellipse cx="502.8" cy="699.4" rx="3.2" ry="3.8" fill="#fff" stroke="#000" stroke-width="1.62" transform="rotate(0 502.8 699.4)"/>
<ellipse cx="502.8" cy="699.4" rx="1.3" ry="1.6" fill="#fff" stroke="#000" stroke-width="1.35" transform="rotate(0 502.8 699.4)"/>
<path d="M488.4,517.5 Q500,519 510,514 Q514,508 512.6,502.6 Q512,496 515.5,491.2 Q524,494 528.7,504.1 Q530,512 526.5,516 Q515,522 500,521 Z" fill="#fff" stroke="#000" stroke-width="1.89" stroke-linejoin="round" stroke-linecap="round"/>
<path d="M508,516 Q504,508 508,500 Q511,496 515.5,491.2" fill="none" stroke="#000" stroke-width="1.62" stroke-linejoin="round" stroke-linecap="round"/>
<path d="M512.6,502.6 Q517,499 521,500 Q525,503 524,510" fill="none" stroke="#000" stroke-width="1.49" stroke-linejoin="round" stroke-linecap="round"/>
<polyline points="484.0,523.0 505.0,524.0 520.0,520.0" fill="none" stroke="#000" stroke-width="1.35" stroke-linejoin="round" stroke-linecap="round" />
<path d="M494,525 Q496,522.5 501,523.5 L511,527 Q514.5,529.5 513.3,533.5 Q511.5,536 507,535 L496,531.5 Q492.5,529 494,525 Z" fill="#fff" stroke="#000" stroke-width="1.76" stroke-linejoin="round" stroke-linecap="round"/>
<ellipse cx="509.7" cy="531.2" rx="2.4" ry="2.8" fill="#fff" stroke="#000" stroke-width="1.62" transform="rotate(0 509.7 531.2)"/>
<path d="M522,532 L522,522 Q522.5,519.5 526.5,519.5 Q531,519.5 531,522 L531,533 Z" fill="#fff" stroke="#000" stroke-width="1.76" stroke-linejoin="round" stroke-linecap="round"/>
<polyline points="522.2,522.2 526.5,524.0 530.8,522.2" fill="none" stroke="#000" stroke-width="1.35" stroke-linejoin="round" stroke-linecap="round" />
<path d="M532.4,508 L538,505.5 L545,508 L547,515 L543,521 L535,522 L532,517 Z" fill="#fff" stroke="#000" stroke-width="1.76" stroke-linejoin="round" stroke-linecap="round"/>
<ellipse cx="539.5" cy="513.5" rx="2.2" ry="2.6" fill="#fff" stroke="#000" stroke-width="1.49" transform="rotate(0 539.5 513.5)"/>
<path d="M547,513 L553,512 L557,515 L558,521 L552,523 L547,520 Z" fill="#fff" stroke="#000" stroke-width="1.76" stroke-linejoin="round" stroke-linecap="round"/>
<ellipse cx="552.5" cy="517.5" rx="1.6" ry="1.9" fill="#fff" stroke="#000" stroke-width="1.35" transform="rotate(0 552.5 517.5)"/>
<path d="M517,536 L524,534 L527,540 L525,547 L518,548 L515,542 Z" fill="#fff" stroke="#000" stroke-width="1.62" stroke-linejoin="round" stroke-linecap="round"/>
<ellipse cx="521.0" cy="541.0" rx="1.6" ry="1.8" fill="#fff" stroke="#000" stroke-width="1.35" transform="rotate(0 521.0 541.0)"/>
<path d="M515,594 L522,592 L525,598 L523,605 L516,606 L513,600 Z" fill="#fff" stroke="#000" stroke-width="1.62" stroke-linejoin="round" stroke-linecap="round"/>
<ellipse cx="519.0" cy="599.0" rx="1.6" ry="1.8" fill="#fff" stroke="#000" stroke-width="1.35" transform="rotate(0 519.0 599.0)"/>
<path d="M515,651 L522,649 L525,655 L523,662 L516,663 L513,657 Z" fill="#fff" stroke="#000" stroke-width="1.62" stroke-linejoin="round" stroke-linecap="round"/>
<ellipse cx="519.0" cy="656.0" rx="1.6" ry="1.8" fill="#fff" stroke="#000" stroke-width="1.35" transform="rotate(0 519.0 656.0)"/>
<path d="M494.8,622 L505,611 L518,609.3 L527.1,614 L524,626 L512,634.1 L499,633 Z" fill="#fff" stroke="#000" stroke-width="1.89" stroke-linejoin="round" stroke-linecap="round"/>
<ellipse cx="504.0" cy="622.0" rx="2.8" ry="3.3" fill="#fff" stroke="#000" stroke-width="1.62" transform="rotate(0 504.0 622.0)"/>
<ellipse cx="511.0" cy="619.0" rx="2.3" ry="2.8" fill="#fff" stroke="#000" stroke-width="1.49" transform="rotate(0 511.0 619.0)"/>
<ellipse cx="507.0" cy="628.0" rx="2.0" ry="2.3" fill="#fff" stroke="#000" stroke-width="1.35" transform="rotate(0 507.0 628.0)"/>
<ellipse cx="523.5" cy="611.0" rx="3.5" ry="4.0" fill="#fff" stroke="#000" stroke-width="1.76" transform="rotate(0 523.5 611.0)"/>
<ellipse cx="523.5" cy="611.0" rx="1.5" ry="1.8" fill="#fff" stroke="#000" stroke-width="1.35" transform="rotate(0 523.5 611.0)"/>
<path d="M499.8,702 L506,698.4 L514.2,700 L514.2,714 L508,717.6 L501,716 Z" fill="#fff" stroke="#000" stroke-width="1.76" stroke-linejoin="round" stroke-linecap="round"/>
<ellipse cx="506.5" cy="711.0" rx="2.4" ry="2.8" fill="#fff" stroke="#000" stroke-width="1.62" transform="rotate(0 506.5 711.0)"/>
<polyline points="514.2,708.0 525.4,698.4 535.0,700.0" fill="none" stroke="#000" stroke-width="1.62" stroke-linejoin="round" stroke-linecap="round" />
<path d="M391.4,385.5 Q394,379 400,378.5 Q407,378.5 412.2,382 Q419,384 422.6,388 Q426.5,392 426,395 Q425.5,399.5 424.3,401 Q421.5,404 419.1,403.7 Q416,403 415.7,401 Q414.5,397 413.9,394.1 Q411,390 407,389 Q402,388 400,389 Q398,391 398.3,394.1 Q399,399 401,404.5 Q401.8,409 401,413.2 Q399.5,417.5 396.6,417.5 Q393,417 392.3,415 Q391.5,411 391.4,406.3 Q390.6,400 390.5,394.1 Q390.5,389 391.4,385.5 Z" fill="#fff" stroke="#000" stroke-width="2.03" stroke-linejoin="round" stroke-linecap="round"/>
<path d="M393,385 Q398,381.5 405,383 Q412,385 416,390" fill="none" stroke="#000" stroke-width="1.35" stroke-linejoin="round" stroke-linecap="round"/>
<ellipse cx="421.7" cy="398.5" rx="1.5" ry="1.8" fill="#fff" stroke="#000" stroke-width="1.49" transform="rotate(0 421.7 398.5)"/>
<ellipse cx="399.2" cy="410.6" rx="1.3" ry="1.6" fill="#fff" stroke="#000" stroke-width="1.35" transform="rotate(0 399.2 410.6)"/>
<polyline points="425.2,399.3 433.0,402.0" fill="none" stroke="#000" stroke-width="1.35" stroke-linejoin="round" stroke-linecap="round" stroke-dasharray="12 4.5" />
<polygon points="433.2,405.0 445.3,408.7 446.7,404.3 434.6,400.6" fill="#fff" stroke="#000" stroke-width="1.62" stroke-linejoin="round" />
<line x1="434.2" y1="405.2" x2="436.7" y2="401.3" stroke="#000" stroke-width="1.22" stroke-linecap="butt"/>
<line x1="436.3" y1="405.9" x2="438.8" y2="401.9" stroke="#000" stroke-width="1.22" stroke-linecap="butt"/>
<line x1="438.4" y1="406.5" x2="440.9" y2="402.6" stroke="#000" stroke-width="1.22" stroke-linecap="butt"/>
<path d="M445,403 L449,401.5 L453,403.5 L454,408.5 L451,412.3 L446.5,411.5 L444.5,407.5 Z" fill="#fff" stroke="#000" stroke-width="1.76" stroke-linejoin="round" stroke-linecap="round"/>
<path d="M461,481.8 L481.6,489.7 Q483,491.5 480.5,493 L459.7,485.5 Q458.5,483 461,481.8 Z" fill="#fff" stroke="#000" stroke-width="1.76" stroke-linejoin="round" stroke-linecap="round"/>
<ellipse cx="480.8" cy="491.4" rx="1.0" ry="1.6" fill="#fff" stroke="#000" stroke-width="1.08" transform="rotate(20 480.8 491.4)"/>
<ellipse cx="462.5" cy="502.8" rx="3.3" ry="3.1" fill="#fff" stroke="#000" stroke-width="1.89" transform="rotate(0 462.5 502.8)"/>
<ellipse cx="462.5" cy="502.8" rx="1.3" ry="1.2" fill="#fff" stroke="#000" stroke-width="1.22" transform="rotate(0 462.5 502.8)"/>
<polyline points="450.8,480.9 456.4,482.3" fill="none" stroke="#000" stroke-width="1.35" stroke-linejoin="round" stroke-linecap="round" stroke-dasharray="12 4.5" />
<polyline points="444.3,495.8 457.3,500.5" fill="none" stroke="#000" stroke-width="1.35" stroke-linejoin="round" stroke-linecap="round" stroke-dasharray="12 4.5" />
<ellipse cx="685.0" cy="359.4" rx="3.8" ry="3.8" fill="#fff" stroke="#000" stroke-width="1.62" transform="rotate(0 685.0 359.4)"/>
<line x1="682.0" y1="359.4" x2="688.0" y2="359.4" stroke="#000" stroke-width="1.08" stroke-linecap="butt"/>
<line x1="685.0" y1="356.4" x2="685.0" y2="362.4" stroke="#000" stroke-width="1.08" stroke-linecap="butt"/>
<ellipse cx="675.3" cy="367.2" rx="3.5" ry="4.8" fill="#fff" stroke="#000" stroke-width="1.76" transform="rotate(-20 675.3 367.2)"/>
<ellipse cx="675.3" cy="367.2" rx="1.4" ry="1.8" fill="#000" stroke="#000" stroke-width="0.68" transform="rotate(0 675.3 367.2)"/>
<ellipse cx="629.0" cy="400.8" rx="4.5" ry="5.5" fill="#fff" stroke="#000" stroke-width="1.89" transform="rotate(-20 629.0 400.8)"/>
<ellipse cx="629.0" cy="400.8" rx="2.0" ry="2.4" fill="#000" stroke="#000" stroke-width="0.68" transform="rotate(0 629.0 400.8)"/>
<polygon points="639.9,395.9 653.4,385.8 650.6,382.2 637.1,392.3" fill="#fff" stroke="#000" stroke-width="1.62" stroke-linejoin="round" />
<line x1="640.7" y1="395.3" x2="638.9" y2="390.9" stroke="#000" stroke-width="1.22" stroke-linecap="butt"/>
<line x1="642.4" y1="394.0" x2="640.6" y2="389.6" stroke="#000" stroke-width="1.22" stroke-linecap="butt"/>
<line x1="644.2" y1="392.7" x2="642.4" y2="388.3" stroke="#000" stroke-width="1.22" stroke-linecap="butt"/>
<line x1="646.0" y1="391.4" x2="644.2" y2="387.0" stroke="#000" stroke-width="1.22" stroke-linecap="butt"/>
<ellipse cx="638.7" cy="394.0" rx="2.3" ry="1.6" fill="#fff" stroke="#000" stroke-width="1.49" transform="rotate(-36 638.7 394.0)"/>
<path d="M651.5,381 L655,377.2 L659.5,378 L661,382.5 L658,386.6 L653,386 Z" fill="#fff" stroke="#000" stroke-width="1.76" stroke-linejoin="round" stroke-linecap="round"/>
<line x1="653.0" y1="380.0" x2="656.0" y2="386.0" stroke="#000" stroke-width="1.08" stroke-linecap="butt"/>
<path d="M659.5,379.5 L666,372 Q668.5,371.5 668.8,374 L662,381.8 Z" fill="#fff" stroke="#000" stroke-width="1.76" stroke-linejoin="round" stroke-linecap="round"/>
<polygon points="574.2,556.0 614.8,570.0 616.4,565.2 575.8,551.2" fill="#fff" stroke="#000" stroke-width="1.62" stroke-linejoin="round" />
<line x1="575.1" y1="556.3" x2="577.9" y2="552.0" stroke="#000" stroke-width="1.22" stroke-linecap="butt"/>
<line x1="577.2" y1="557.0" x2="580.0" y2="552.7" stroke="#000" stroke-width="1.22" stroke-linecap="butt"/>
<line x1="579.3" y1="557.7" x2="582.1" y2="553.4" stroke="#000" stroke-width="1.22" stroke-linecap="butt"/>
<line x1="581.4" y1="558.4" x2="584.1" y2="554.1" stroke="#000" stroke-width="1.22" stroke-linecap="butt"/>
<line x1="583.4" y1="559.2" x2="586.2" y2="554.8" stroke="#000" stroke-width="1.22" stroke-linecap="butt"/>
<line x1="585.5" y1="559.9" x2="588.3" y2="555.5" stroke="#000" stroke-width="1.22" stroke-linecap="butt"/>
<line x1="587.6" y1="560.6" x2="590.4" y2="556.3" stroke="#000" stroke-width="1.22" stroke-linecap="butt"/>
<line x1="589.7" y1="561.3" x2="592.5" y2="557.0" stroke="#000" stroke-width="1.22" stroke-linecap="butt"/>
<line x1="591.8" y1="562.0" x2="594.5" y2="557.7" stroke="#000" stroke-width="1.22" stroke-linecap="butt"/>
<line x1="593.8" y1="562.7" x2="596.6" y2="558.4" stroke="#000" stroke-width="1.22" stroke-linecap="butt"/>
<line x1="595.9" y1="563.5" x2="598.7" y2="559.1" stroke="#000" stroke-width="1.22" stroke-linecap="butt"/>
<line x1="598.0" y1="564.2" x2="600.8" y2="559.8" stroke="#000" stroke-width="1.22" stroke-linecap="butt"/>
<line x1="600.1" y1="564.9" x2="602.9" y2="560.6" stroke="#000" stroke-width="1.22" stroke-linecap="butt"/>
<line x1="602.2" y1="565.6" x2="604.9" y2="561.3" stroke="#000" stroke-width="1.22" stroke-linecap="butt"/>
<line x1="604.2" y1="566.3" x2="607.0" y2="562.0" stroke="#000" stroke-width="1.22" stroke-linecap="butt"/>
<line x1="606.3" y1="567.0" x2="609.1" y2="562.7" stroke="#000" stroke-width="1.22" stroke-linecap="butt"/>
<line x1="608.4" y1="567.8" x2="611.2" y2="563.4" stroke="#000" stroke-width="1.22" stroke-linecap="butt"/>
<line x1="610.5" y1="568.5" x2="613.3" y2="564.1" stroke="#000" stroke-width="1.22" stroke-linecap="butt"/>
<ellipse cx="615.6" cy="567.6" rx="1.5" ry="2.6" fill="#fff" stroke="#000" stroke-width="1.49" transform="rotate(20 615.6 567.6)"/>
<ellipse cx="624.6" cy="571.8" rx="3.5" ry="5.5" fill="#fff" stroke="#000" stroke-width="1.89" transform="rotate(20 624.6 571.8)"/>
<ellipse cx="624.6" cy="571.8" rx="1.4" ry="2.2" fill="#000" stroke="#000" stroke-width="0.68" transform="rotate(0 624.6 571.8)"/>
<ellipse cx="636.6" cy="574.6" rx="4.5" ry="6.5" fill="#fff" stroke="#000" stroke-width="1.89" transform="rotate(20 636.6 574.6)"/>
<ellipse cx="636.6" cy="574.6" rx="1.8" ry="2.6" fill="#fff" stroke="#000" stroke-width="1.22" transform="rotate(0 636.6 574.6)"/>
<ellipse cx="683.4" cy="574.6" rx="3.5" ry="5.5" fill="#fff" stroke="#000" stroke-width="1.89" transform="rotate(20 683.4 574.6)"/>
<ellipse cx="683.4" cy="574.6" rx="1.4" ry="2.2" fill="#000" stroke="#000" stroke-width="0.68" transform="rotate(0 683.4 574.6)"/>
<polygon points="691.8,580.0 721.2,589.1 722.8,583.9 693.4,574.8" fill="#fff" stroke="#000" stroke-width="1.62" stroke-linejoin="round" />
<line x1="692.7" y1="580.3" x2="695.5" y2="575.4" stroke="#000" stroke-width="1.22" stroke-linecap="butt"/>
<line x1="694.8" y1="581.0" x2="697.6" y2="576.1" stroke="#000" stroke-width="1.22" stroke-linecap="butt"/>
<line x1="696.9" y1="581.6" x2="699.7" y2="576.7" stroke="#000" stroke-width="1.22" stroke-linecap="butt"/>
<line x1="699.0" y1="582.3" x2="701.8" y2="577.4" stroke="#000" stroke-width="1.22" stroke-linecap="butt"/>
<line x1="701.1" y1="582.9" x2="703.9" y2="578.0" stroke="#000" stroke-width="1.22" stroke-linecap="butt"/>
<line x1="703.3" y1="583.6" x2="706.0" y2="578.7" stroke="#000" stroke-width="1.22" stroke-linecap="butt"/>
<line x1="705.4" y1="584.2" x2="708.1" y2="579.3" stroke="#000" stroke-width="1.22" stroke-linecap="butt"/>
<path d="M721,581 L726,581.5 L729,586 L727.5,591 L722.5,591.5 L720,587 Z" fill="#fff" stroke="#000" stroke-width="1.76" stroke-linejoin="round" stroke-linecap="round"/>
<polyline points="681.4,573.2 670.2,570.4 601.6,618.0 584.8,612.4" fill="none" stroke="#000" stroke-width="1.35" stroke-linejoin="round" stroke-linecap="round" stroke-dasharray="12 4.5" />
<polygon points="573.1,579.1 582.5,582.2 583.5,578.8 574.1,575.7" fill="#fff" stroke="#000" stroke-width="1.62" stroke-linejoin="round" />
<line x1="574.0" y1="579.4" x2="576.2" y2="576.4" stroke="#000" stroke-width="1.22" stroke-linecap="butt"/>
<line x1="576.1" y1="580.1" x2="578.3" y2="577.1" stroke="#000" stroke-width="1.22" stroke-linecap="butt"/>
<ellipse cx="586.2" cy="581.6" rx="3.5" ry="4.0" fill="#fff" stroke="#000" stroke-width="1.76" transform="rotate(0 586.2 581.6)"/>
<path d="M570,619 L577,615.6 L580.3,618 L580.3,626 Q579,629.8 575,629.8 Q570,629.8 569.6,626 Z" fill="#fff" stroke="#000" stroke-width="1.76" stroke-linejoin="round" stroke-linecap="round"/>
<polyline points="570.0,619.0 573.5,621.0 580.3,618.0" fill="none" stroke="#000" stroke-width="1.35" stroke-linejoin="round" stroke-linecap="round" />
<polyline points="573.5,621.0 573.5,629.5" fill="none" stroke="#000" stroke-width="1.22" stroke-linejoin="round" stroke-linecap="round" />
<path d="M577,611 L586,606.5 L589,607.5 L589,612.5 L580,617 L577,616 Z" fill="#fff" stroke="#000" stroke-width="1.76" stroke-linejoin="round" stroke-linecap="round"/>
<ellipse cx="581.3" cy="612.3" rx="1.1" ry="1.6" fill="#fff" stroke="#000" stroke-width="1.22" transform="rotate(0 581.3 612.3)"/>
<ellipse cx="585.3" cy="610.2" rx="1.1" ry="1.6" fill="#fff" stroke="#000" stroke-width="1.22" transform="rotate(0 585.3 610.2)"/>
<line x1="583.2" y1="608.5" x2="583.3" y2="614.5" stroke="#000" stroke-width="1.22" stroke-linecap="butt"/>
<ellipse cx="645.3" cy="612.4" rx="4.2" ry="5.4" fill="#fff" stroke="#000" stroke-width="1.76" transform="rotate(35 645.3 612.4)"/>
<path d="M648,608 L652,605.8 Q654.5,606.5 654,609.5 L650.5,612 Z" fill="#fff" stroke="#000" stroke-width="1.62" stroke-linejoin="round" stroke-linecap="round"/>
<path d="M636.8,615.5 L639.5,612.8 L643,613.5 L644.3,617 L642,619.9 L638,619.5 Z" fill="#222" stroke="#000" stroke-width="1.62" stroke-linejoin="round" stroke-linecap="round"/>
<polyline points="636.6,618.0 572.2,664.2 570.8,640.4 563.8,643.2" fill="none" stroke="#000" stroke-width="1.35" stroke-linejoin="round" stroke-linecap="round" stroke-dasharray="12 4.5" />
<ellipse cx="675.3" cy="632.0" rx="4.5" ry="5.5" fill="#fff" stroke="#000" stroke-width="1.89" transform="rotate(20 675.3 632.0)"/>
<ellipse cx="675.3" cy="632.0" rx="2.0" ry="2.4" fill="#fff" stroke="#000" stroke-width="1.22" transform="rotate(0 675.3 632.0)"/>
<polygon points="683.8,629.3 694.0,622.5 692.0,619.5 681.8,626.3" fill="#fff" stroke="#000" stroke-width="1.62" stroke-linejoin="round" />
<line x1="684.6" y1="628.7" x2="683.7" y2="625.1" stroke="#000" stroke-width="1.22" stroke-linecap="butt"/>
<line x1="686.4" y1="627.5" x2="685.5" y2="623.9" stroke="#000" stroke-width="1.22" stroke-linecap="butt"/>
<line x1="688.3" y1="626.3" x2="687.3" y2="622.7" stroke="#000" stroke-width="1.22" stroke-linecap="butt"/>
<path d="M692,617 L697,616 L699.5,620 L697.5,624 L693,624 Z" fill="#fff" stroke="#000" stroke-width="1.76" stroke-linejoin="round" stroke-linecap="round"/>
<path d="M657.6,644 L663,637.6 L668,637.6 L672,642 L677.6,646 L678.6,652 L672,656 L666,660 L660,658 L658,652 Z" fill="#fff" stroke="#000" stroke-width="1.89" stroke-linejoin="round" stroke-linecap="round"/>
<line x1="663.0" y1="637.6" x2="664.0" y2="650.0" stroke="#000" stroke-width="1.35" stroke-linecap="butt"/>
<line x1="666.0" y1="660.0" x2="668.0" y2="644.0" stroke="#000" stroke-width="1.22" stroke-linecap="butt"/>
<ellipse cx="662.0" cy="646.0" rx="1.5" ry="1.8" fill="#000" stroke="#000" stroke-width="0.68" transform="rotate(0 662.0 646.0)"/>
<ellipse cx="663.0" cy="652.0" rx="1.2" ry="1.4" fill="#000" stroke="#000" stroke-width="0.68" transform="rotate(0 663.0 652.0)"/>
<polyline points="677.2,647.4 684.2,655.8 692.6,651.6" fill="none" stroke="#000" stroke-width="1.35" stroke-linejoin="round" stroke-linecap="round" stroke-dasharray="12 4.5" />
<line x1="698.2" y1="651.6" x2="703.0" y2="647.5" stroke="#000" stroke-width="2.03" stroke-linecap="butt"/>
<ellipse cx="705.2" cy="646.0" rx="2.3" ry="2.3" fill="#fff" stroke="#000" stroke-width="1.62" transform="rotate(0 705.2 646.0)"/>
<path d="M632.5,665 L637,662.3 L642,662.5 L645.3,666.5 L644,671.5 L639,673.5 L634,671.5 Z" fill="#fff" stroke="#000" stroke-width="1.89" stroke-linejoin="round" stroke-linecap="round"/>
<path d="M632.5,665 L634,671.5 L636,672.5 L635,665.5 Z" fill="#222" stroke="#000" stroke-width="1.08" stroke-linejoin="round" stroke-linecap="round"/>
<ellipse cx="640.0" cy="667.6" rx="2.2" ry="2.4" fill="#fff" stroke="#000" stroke-width="1.49" transform="rotate(0 640.0 667.6)"/>
<polyline points="645.0,665.6 659.0,654.4" fill="none" stroke="#000" stroke-width="1.35" stroke-linejoin="round" stroke-linecap="round" stroke-dasharray="12 4.5" />
<path d="M334,701 L339,701 L339,718 L334,718 Z" fill="#fff" stroke="#000" stroke-width="1.76" stroke-linejoin="round" stroke-linecap="round"/>
<line x1="334.0" y1="703.0" x2="339.0" y2="704.0" stroke="#000" stroke-width="1.22" stroke-linecap="butt"/>
<line x1="334.0" y1="705.6" x2="339.0" y2="706.6" stroke="#000" stroke-width="1.22" stroke-linecap="butt"/>
<line x1="334.0" y1="708.2" x2="339.0" y2="709.2" stroke="#000" stroke-width="1.22" stroke-linecap="butt"/>
<line x1="334.0" y1="710.8" x2="339.0" y2="711.8" stroke="#000" stroke-width="1.22" stroke-linecap="butt"/>
<line x1="334.0" y1="713.4" x2="339.0" y2="714.4" stroke="#000" stroke-width="1.22" stroke-linecap="butt"/>
<line x1="334.0" y1="716.0" x2="339.0" y2="717.0" stroke="#000" stroke-width="1.22" stroke-linecap="butt"/>
<line x1="336.5" y1="687.0" x2="336.5" y2="699.0" stroke="#000" stroke-width="1.35" stroke-linecap="butt" stroke-dasharray="3 2"/>
<path d="M330.5,729.2 L333,726 L339.5,726 L342.3,729.2 L339.5,732.4 L333,732.4 Z" fill="#fff" stroke="#000" stroke-width="1.76" stroke-linejoin="round" stroke-linecap="round"/>
<line x1="333.5" y1="727.5" x2="339.0" y2="731.0" stroke="#000" stroke-width="1.22" stroke-linecap="butt"/>
<path d="M433.4,711 L441,707.7 L443,711 L441,720 L447,722 Q448.5,730 443,732 L438,732 Q434,729 435,722 Z" fill="#fff" stroke="#000" stroke-width="1.76" stroke-linejoin="round" stroke-linecap="round"/>
<line x1="437.0" y1="713.0" x2="441.0" y2="722.0" stroke="#000" stroke-width="1.35" stroke-linecap="butt"/>
<polyline points="424.8,706.0 456.0,681.7" fill="none" stroke="#000" stroke-width="1.35" stroke-linejoin="round" stroke-linecap="round" stroke-dasharray="12 4.5" />
<polyline points="424.8,706.0 433.4,711.0" fill="none" stroke="#000" stroke-width="1.35" stroke-linejoin="round" stroke-linecap="round" stroke-dasharray="12 4.5" />
<ellipse cx="485.4" cy="728.5" rx="5.2" ry="5.6" fill="#fff" stroke="#000" stroke-width="1.89" transform="rotate(0 485.4 728.5)"/>
<ellipse cx="485.4" cy="728.5" rx="2.6" ry="2.8" fill="#fff" stroke="#000" stroke-width="1.35" transform="rotate(0 485.4 728.5)"/>
<path d="M481,724 L485,722.5 L490,724 L491,729 L489,733.5 L484,734 L480.5,730 Z" fill="none" stroke="#000" stroke-width="1.49" stroke-linejoin="round" stroke-linecap="round"/>
<ellipse cx="472.6" cy="735.5" rx="4.3" ry="4.8" fill="#fff" stroke="#000" stroke-width="1.89" transform="rotate(0 472.6 735.5)"/>
<ellipse cx="472.6" cy="735.5" rx="1.9" ry="2.2" fill="#fff" stroke="#000" stroke-width="1.35" transform="rotate(0 472.6 735.5)"/>
<ellipse cx="460.1" cy="744.1" rx="5.3" ry="5.7" fill="#fff" stroke="#000" stroke-width="1.89" transform="rotate(0 460.1 744.1)"/>
<ellipse cx="460.1" cy="744.1" rx="2.4" ry="2.6" fill="#000" stroke="#000" stroke-width="0.68" transform="rotate(0 460.1 744.1)"/>
<path d="M456,740 L460,738.5 L465,740 L466,745 L464,749 L459,750 L455.5,746 Z" fill="none" stroke="#000" stroke-width="1.49" stroke-linejoin="round" stroke-linecap="round"/>
<polyline points="450.8,745.9 452.0,751.0 454.2,754.5" fill="none" stroke="#000" stroke-width="1.76" stroke-linejoin="round" stroke-linecap="round" />
<ellipse cx="450.8" cy="745.6" rx="1.2" ry="1.2" fill="#fff" stroke="#000" stroke-width="1.22" transform="rotate(0 450.8 745.6)"/>
<path d="M533,742.4 L538,741.5 L540,743.5 L535.5,745 Z" fill="#fff" stroke="#000" stroke-width="1.49" stroke-linejoin="round" stroke-linecap="round"/>
<polyline points="527.0,711.2 529.2,739.8 534.0,742.0" fill="none" stroke="#000" stroke-width="1.35" stroke-linejoin="round" stroke-linecap="round" stroke-dasharray="12 4.5" />
<ellipse cx="550.7" cy="717.4" rx="3.8" ry="5.5" fill="#fff" stroke="#000" stroke-width="1.89" transform="rotate(20 550.7 717.4)"/>
<ellipse cx="550.7" cy="717.4" rx="1.6" ry="2.2" fill="#000" stroke="#000" stroke-width="0.68" transform="rotate(0 550.7 717.4)"/>
<polygon points="560.3,723.0 596.4,735.6 598.6,729.4 562.5,716.8" fill="#fff" stroke="#000" stroke-width="1.62" stroke-linejoin="round" />
<line x1="561.3" y1="723.3" x2="564.5" y2="717.6" stroke="#000" stroke-width="1.22" stroke-linecap="butt"/>
<line x1="563.4" y1="724.0" x2="566.6" y2="718.3" stroke="#000" stroke-width="1.22" stroke-linecap="butt"/>
<line x1="565.4" y1="724.7" x2="568.7" y2="719.0" stroke="#000" stroke-width="1.22" stroke-linecap="butt"/>
<line x1="567.5" y1="725.5" x2="570.8" y2="719.7" stroke="#000" stroke-width="1.22" stroke-linecap="butt"/>
<line x1="569.6" y1="726.2" x2="572.9" y2="720.5" stroke="#000" stroke-width="1.22" stroke-linecap="butt"/>
<line x1="571.7" y1="726.9" x2="574.9" y2="721.2" stroke="#000" stroke-width="1.22" stroke-linecap="butt"/>
<line x1="573.7" y1="727.6" x2="577.0" y2="721.9" stroke="#000" stroke-width="1.22" stroke-linecap="butt"/>
<line x1="575.8" y1="728.4" x2="579.1" y2="722.6" stroke="#000" stroke-width="1.22" stroke-linecap="butt"/>
<line x1="577.9" y1="729.1" x2="581.2" y2="723.4" stroke="#000" stroke-width="1.22" stroke-linecap="butt"/>
<path d="M597,727 L602,728 L605,733 L603.5,738.5 L598.5,739 L595.5,734 Z" fill="#fff" stroke="#000" stroke-width="1.76" stroke-linejoin="round" stroke-linecap="round"/>
<path d="M706.5,754 L710,751.5 L714.5,753 L715,758 L711.5,760.5 L707,759 Z" fill="#222" stroke="#000" stroke-width="1.62" stroke-linejoin="round" stroke-linecap="round"/>
<polyline points="538.4,701.5 704.0,753.6" fill="none" stroke="#000" stroke-width="1.35" stroke-linejoin="round" stroke-linecap="round" stroke-dasharray="12 4.5" />
<polyline points="448.8,754.0 432.0,766.8 475.2,782.0 373.3,856.5" fill="none" stroke="#000" stroke-width="1.35" stroke-linejoin="round" stroke-linecap="round" stroke-dasharray="12 4.5" />
<polyline points="459.2,794.0 492.8,805.2" fill="none" stroke="#000" stroke-width="1.35" stroke-linejoin="round" stroke-linecap="round" stroke-dasharray="12 4.5" />
<polyline points="509.0,810.8 518.0,814.0" fill="none" stroke="#000" stroke-width="1.35" stroke-linejoin="round" stroke-linecap="round" stroke-dasharray="12 4.5" />
<polyline points="300.0,886.0 328.0,867.3" fill="none" stroke="#000" stroke-width="1.35" stroke-linejoin="round" stroke-linecap="round" stroke-dasharray="12 4.5" />
<polygon points="351.7,850.0 360.0,843.8 358.0,841.2 349.7,847.4" fill="#fff" stroke="#000" stroke-width="1.62" stroke-linejoin="round" />
<line x1="352.5" y1="849.4" x2="351.5" y2="846.1" stroke="#000" stroke-width="1.22" stroke-linecap="butt"/>
<line x1="354.2" y1="848.1" x2="353.3" y2="844.8" stroke="#000" stroke-width="1.22" stroke-linecap="butt"/>
<line x1="356.0" y1="846.8" x2="355.0" y2="843.5" stroke="#000" stroke-width="1.22" stroke-linecap="butt"/>
<line x1="357.7" y1="845.4" x2="356.8" y2="842.2" stroke="#000" stroke-width="1.22" stroke-linecap="butt"/>
<ellipse cx="361.0" cy="841.0" rx="2.6" ry="3.2" fill="#333" stroke="#000" stroke-width="1.76" transform="rotate(-35 361.0 841.0)"/>
<path d="M325.3,852 L333,846 L345,848 L350.7,855 L350.7,865 L340,870 L332,869 L327,862 Z" fill="#fff" stroke="#000" stroke-width="1.89" stroke-linejoin="round" stroke-linecap="round"/>
<path d="M333,846 L333,862 L340,870" fill="none" stroke="#000" stroke-width="1.35" stroke-linejoin="round" stroke-linecap="round"/>
<ellipse cx="328.5" cy="853.5" rx="2.6" ry="2.6" fill="#000" stroke="#000" stroke-width="0.81" transform="rotate(0 328.5 853.5)"/>
<ellipse cx="337.0" cy="851.0" rx="1.0" ry="1.0" fill="#000" stroke="#000" stroke-width="0.54" transform="rotate(0 337.0 851.0)"/>
<ellipse cx="335.0" cy="857.0" rx="1.0" ry="1.0" fill="#000" stroke="#000" stroke-width="0.54" transform="rotate(0 335.0 857.0)"/>
<path d="M306.5,887 L307.2,894 Q309.5,901.5 316.8,900.6 L375,862 Q376.5,858 373.5,856.3 L316.5,892.5 Q313.2,894 312.6,889 L312.4,886" fill="#fff" stroke="#000" stroke-width="1.89" stroke-linejoin="round" stroke-linecap="round"/>
<path d="M314.5,896.5 L374,859" fill="none" stroke="#000" stroke-width="1.08" stroke-linejoin="round" stroke-linecap="round"/>
<ellipse cx="373.8" cy="859.2" rx="1.9" ry="3.4" fill="#fff" stroke="#000" stroke-width="1.49" transform="rotate(-33 373.8 859.2)"/>
<path d="M306.3,855 L308,852.7 L315.5,853.3 L317,855.5 L317,889 L306.3,889 Z" fill="#fff" stroke="#000" stroke-width="1.89" stroke-linejoin="round" stroke-linecap="round"/>
<line x1="314.8" y1="854.0" x2="314.8" y2="888.5" stroke="#000" stroke-width="1.35" stroke-linecap="butt"/>
<ellipse cx="310.6" cy="858.7" rx="1.3" ry="1.5" fill="#fff" stroke="#000" stroke-width="1.35" transform="rotate(0 310.6 858.7)"/>
<ellipse cx="310.6" cy="868.7" rx="1.3" ry="1.5" fill="#fff" stroke="#000" stroke-width="1.35" transform="rotate(0 310.6 868.7)"/>
<ellipse cx="310.6" cy="877.3" rx="1.3" ry="1.5" fill="#fff" stroke="#000" stroke-width="1.35" transform="rotate(0 310.6 877.3)"/>
<ellipse cx="296.4" cy="888.7" rx="3.6" ry="3.6" fill="#000" stroke="#000" stroke-width="1.35" transform="rotate(0 296.4 888.7)"/>
<path d="M446,888 Q450,885.5 454,888.5 L478.3,913 Q481.5,919 478.5,923.5 Q474,926.5 469,924 L443.5,900.5 Z" fill="#fff" stroke="#000" stroke-width="2.03" stroke-linejoin="round" stroke-linecap="round"/>
<polyline points="451.0,890.0 474.0,915.0" fill="none" stroke="#000" stroke-width="1.35" stroke-linejoin="round" stroke-linecap="round" />
<ellipse cx="469.5" cy="920.5" rx="1.8" ry="1.8" fill="#fff" stroke="#000" stroke-width="1.49" transform="rotate(0 469.5 920.5)"/>
<ellipse cx="446.5" cy="895.0" rx="2.6" ry="2.8" fill="#000" stroke="#000" stroke-width="0.81" transform="rotate(0 446.5 895.0)"/>
<path d="M392,903 L433,891.3 L441,897 L441,902 L431.7,910.7 L407,909 Z" fill="#fff" stroke="#000" stroke-width="1.89" stroke-linejoin="round" stroke-linecap="round"/>
<path d="M405,900.5 L431,896 L439,901 L431,907.5 L407,906 Z" fill="#fff" stroke="#000" stroke-width="1.49" stroke-linejoin="round" stroke-linecap="round"/>
<path d="M432.5,899 L435.5,889 Q438.5,882.5 444.5,883.5 Q449.5,885.5 447.5,891.5 L444,901 Q438,903 432.5,899 Z" fill="#fff" stroke="#000" stroke-width="1.89" stroke-linejoin="round" stroke-linecap="round"/>
<ellipse cx="436.5" cy="893.0" rx="2.8" ry="3.0" fill="#fff" stroke="#000" stroke-width="1.62" transform="rotate(0 436.5 893.0)"/>
<polyline points="438.5,884.5 444.0,888.0 447.8,890.0" fill="none" stroke="#000" stroke-width="1.35" stroke-linejoin="round" stroke-linecap="round" />
<path d="M391,903 L399,900 L407.7,901.5 L407.7,913 L401,916 L391,914 Z" fill="#fff" stroke="#000" stroke-width="1.89" stroke-linejoin="round" stroke-linecap="round"/>
<polyline points="391.0,903.0 401.0,905.0 407.7,901.5" fill="none" stroke="#000" stroke-width="1.49" stroke-linejoin="round" stroke-linecap="round" />
<polyline points="401.0,905.0 401.0,916.0" fill="none" stroke="#000" stroke-width="1.49" stroke-linejoin="round" stroke-linecap="round" />
<ellipse cx="396.0" cy="909.5" rx="1.2" ry="1.4" fill="#000" stroke="#000" stroke-width="0.68" transform="rotate(0 396.0 909.5)"/>
<line x1="418.3" y1="866.7" x2="419.0" y2="904.0" stroke="#000" stroke-width="1.22" stroke-linecap="butt" stroke-dasharray="3 2"/>
<polygon points="411.5,929.5 422.2,920.8 419.8,917.8 409.1,926.5" fill="#fff" stroke="#000" stroke-width="1.62" stroke-linejoin="round" />
<line x1="412.3" y1="928.8" x2="410.8" y2="925.1" stroke="#000" stroke-width="1.22" stroke-linecap="butt"/>
<line x1="414.0" y1="927.5" x2="412.5" y2="923.7" stroke="#000" stroke-width="1.22" stroke-linecap="butt"/>
<line x1="415.7" y1="926.1" x2="414.2" y2="922.4" stroke="#000" stroke-width="1.22" stroke-linecap="butt"/>
<line x1="417.4" y1="924.7" x2="415.9" y2="921.0" stroke="#000" stroke-width="1.22" stroke-linecap="butt"/>
<line x1="419.1" y1="923.3" x2="417.6" y2="919.6" stroke="#000" stroke-width="1.22" stroke-linecap="butt"/>
<ellipse cx="405.8" cy="929.0" rx="4.3" ry="3.8" fill="#fff" stroke="#000" stroke-width="1.89" transform="rotate(-35 405.8 929.0)"/>
<path d="M416,838.5 L420.5,838.5 L420,841 L419,841 L419,846 L417.5,846 L417.5,841 L416.5,841 Z" fill="#fff" stroke="#000" stroke-width="1.49" stroke-linejoin="round" stroke-linecap="round"/>
<path d="M409.3,854.8 L413,852 L430,855.5 L440.1,858 L441.5,860.7 L437,862 L420,859 L410,857.5 Z" fill="#fff" stroke="#000" stroke-width="1.62" stroke-linejoin="round" stroke-linecap="round"/>
<path d="M409.3,863.6 L413,861 L432,866 L444,869 L446,875.3 L442,876 L430,870 L411,866.5 Z" fill="#fff" stroke="#000" stroke-width="1.62" stroke-linejoin="round" stroke-linecap="round"/>
<ellipse cx="418.5" cy="856.0" rx="1.0" ry="1.0" fill="#000" stroke="#000" stroke-width="0.54" transform="rotate(0 418.5 856.0)"/>
<ellipse cx="418.5" cy="865.0" rx="1.0" ry="1.0" fill="#000" stroke="#000" stroke-width="0.54" transform="rotate(0 418.5 865.0)"/>
<path d="M493.8,808 Q496,803 501,803.2 Q505,803.5 504.6,807 L507,846 Q507.5,851.5 503,853 L497,854 Q494.5,853 494.5,850 Z" fill="#fff" stroke="#000" stroke-width="2.03" stroke-linejoin="round" stroke-linecap="round"/>
<polyline points="497.0,806.5 498.0,852.0" fill="none" stroke="#000" stroke-width="1.35" stroke-linejoin="round" stroke-linecap="round" />
<ellipse cx="505.2" cy="809.4" rx="1.8" ry="2.2" fill="#fff" stroke="#000" stroke-width="1.49" transform="rotate(0 505.2 809.4)"/>
<ellipse cx="505.2" cy="846.0" rx="1.6" ry="2.0" fill="#fff" stroke="#000" stroke-width="1.35" transform="rotate(0 505.2 846.0)"/>
<path d="M472.2,816.6 L476.4,813 L495,806.5 L497,810 L492.6,827.4 L478.2,832.2 Z" fill="#fff" stroke="#000" stroke-width="2.03" stroke-linejoin="round" stroke-linecap="round"/>
<polyline points="472.2,816.6 488.4,811.8 495.0,806.5" fill="none" stroke="#000" stroke-width="1.49" stroke-linejoin="round" stroke-linecap="round" />
<polyline points="488.4,811.8 492.6,827.4" fill="none" stroke="#000" stroke-width="1.49" stroke-linejoin="round" stroke-linecap="round" />
<path d="M492.6,815.4 L497.4,814 L497.4,821.5 L493.5,822.6 Z" fill="#fff" stroke="#000" stroke-width="1.49" stroke-linejoin="round" stroke-linecap="round"/>
<polyline points="476.4,805.8 478.2,811.8" fill="none" stroke="#000" stroke-width="1.35" stroke-linejoin="round" stroke-linecap="round" stroke-dasharray="12 4.5" />
<polyline points="486.0,833.4 489.6,841.8" fill="none" stroke="#000" stroke-width="1.35" stroke-linejoin="round" stroke-linecap="round" stroke-dasharray="12 4.5" />
<polygon points="519.7,815.8 533.5,820.2 534.5,817.0 520.7,812.6" fill="#fff" stroke="#000" stroke-width="1.62" stroke-linejoin="round" />
<line x1="520.6" y1="816.1" x2="522.8" y2="813.2" stroke="#000" stroke-width="1.22" stroke-linecap="butt"/>
<line x1="522.7" y1="816.8" x2="524.9" y2="813.9" stroke="#000" stroke-width="1.22" stroke-linecap="butt"/>
<line x1="524.8" y1="817.5" x2="527.0" y2="814.6" stroke="#000" stroke-width="1.22" stroke-linecap="butt"/>
<line x1="526.9" y1="818.1" x2="529.1" y2="815.3" stroke="#000" stroke-width="1.22" stroke-linecap="butt"/>
<line x1="529.0" y1="818.8" x2="531.2" y2="815.9" stroke="#000" stroke-width="1.22" stroke-linecap="butt"/>
<line x1="531.1" y1="819.5" x2="533.3" y2="816.6" stroke="#000" stroke-width="1.22" stroke-linecap="butt"/>
<path d="M534,815.5 L537.5,814.8 L541.2,817 L541.2,822 L537.5,823.8 L534,822 Z" fill="#fff" stroke="#000" stroke-width="1.76" stroke-linejoin="round" stroke-linecap="round"/>
<path d="M497.3,870 L501,867.8 L504.7,869.5 L504.7,875 L501,876.8 L497.3,875 Z" fill="#fff" stroke="#000" stroke-width="1.89" stroke-linejoin="round" stroke-linecap="round"/>
<line x1="497.5" y1="870.5" x2="504.5" y2="870.0" stroke="#000" stroke-width="1.49" stroke-linecap="butt"/>
<line x1="497.5" y1="872.5" x2="504.5" y2="872.0" stroke="#000" stroke-width="1.49" stroke-linecap="butt"/>
<line x1="497.5" y1="874.5" x2="504.5" y2="874.0" stroke="#000" stroke-width="1.49" stroke-linecap="butt"/>
<ellipse cx="506.7" cy="887.7" rx="7.0" ry="3.2" fill="#fff" stroke="#000" stroke-width="1.76" transform="rotate(-15 506.7 887.7)"/>
<ellipse cx="506.7" cy="887.7" rx="2.5" ry="1.3" fill="#fff" stroke="#000" stroke-width="1.22" transform="rotate(-15 506.7 887.7)"/>
<path d="M508,897 L511,895.5 L521,922 L518,924.5 Z" fill="#fff" stroke="#000" stroke-width="1.89" stroke-linejoin="round" stroke-linecap="round"/>
<line x1="509.5" y1="899.0" x2="512.0" y2="898.0" stroke="#000" stroke-width="1.08" stroke-linecap="butt"/>
<line x1="510.9" y1="902.6" x2="513.4" y2="901.6" stroke="#000" stroke-width="1.08" stroke-linecap="butt"/>
<line x1="512.3" y1="906.2" x2="514.8" y2="905.2" stroke="#000" stroke-width="1.08" stroke-linecap="butt"/>
<line x1="513.7" y1="909.8" x2="516.2" y2="908.8" stroke="#000" stroke-width="1.08" stroke-linecap="butt"/>
<line x1="515.1" y1="913.4" x2="517.6" y2="912.4" stroke="#000" stroke-width="1.08" stroke-linecap="butt"/>
<line x1="516.5" y1="917.0" x2="519.0" y2="916.0" stroke="#000" stroke-width="1.08" stroke-linecap="butt"/>
</svg>
</body></html>
